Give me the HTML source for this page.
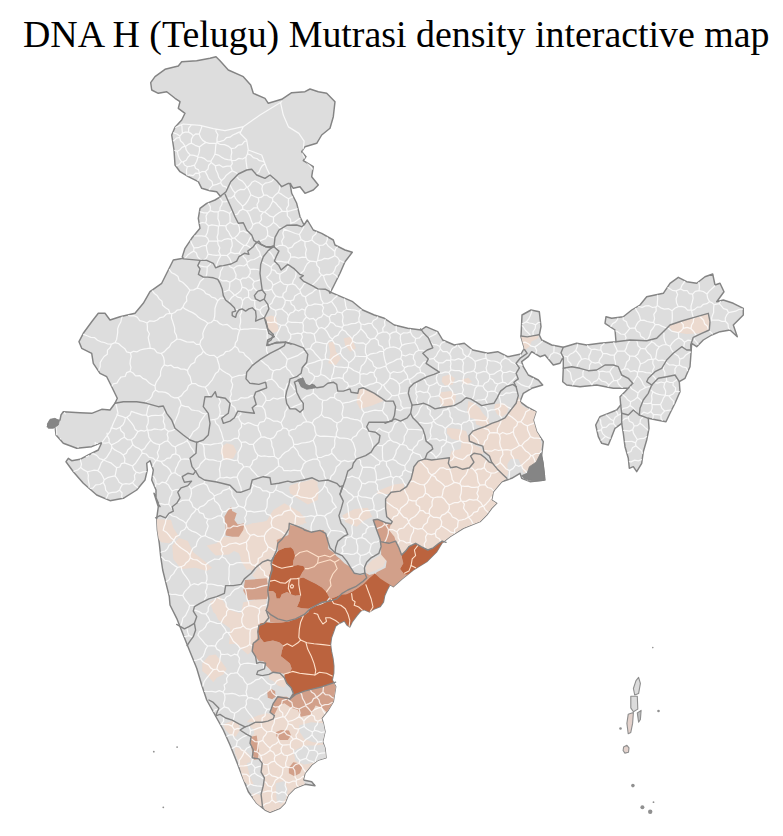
<!DOCTYPE html>
<html><head><meta charset="utf-8"><title>DNA H (Telugu) Mutrasi density interactive map</title>
<style>
html,body{margin:0;padding:0;background:#fff;width:783px;height:836px;overflow:hidden}
h1{font-family:"Liberation Serif",serif;font-weight:normal;font-size:37.9px;line-height:44px;margin:0;position:absolute;left:23px;top:11.5px;white-space:nowrap;color:#000}
svg{position:absolute;left:0;top:0}
</style></head><body>
<h1>DNA H (Telugu) Mutrasi density interactive map</h1>
<svg width="783" height="836" viewBox="0 0 783 836">
<path d="M150.7,82.7 L155.0,76.7 L165.0,69.3 L178.3,66.0 L181.7,61.7 L196.7,60.7 L210.0,58.3 L216.0,56.7 L220.0,60.7 L228.3,70.0 L243.3,76.7 L250.7,85.0 L253.3,93.3 L265.0,98.3 L268.3,103.3 L281.7,99.3 L291.7,92.7 L305.0,91.7 L310.0,89.0 L318.3,91.7 L326.7,93.3 L335.0,101.7 L333.3,116.7 L330.0,128.3 L321.7,135.0 L316.7,143.3 L305.0,146.7 L301.7,151.7 L306.0,156.7 L303.3,160.7 L313.3,166.7 L311.7,176.7 L318.3,185.0 L313.3,190.0 L305.0,193.3 L300.0,186.7 L293.3,188.3 L290.0,183.3 L291.7,193.3 L296.7,203.3 L300.0,216.7 L304.0,225.0 L307.3,220.0 L313.3,230.0 L321.7,233.3 L333.3,240.0 L335.0,245.0 L345.0,250.0 L352.3,252.3 L345.0,261.7 L340.0,273.3 L333.3,286.7 L330.0,293.3 L329.3,291.7 L341.0,296.7 L352.7,301.7 L362.7,310.0 L374.3,315.0 L384.3,318.3 L394.3,325.0 L407.7,328.3 L421.0,330.0 L426.0,326.7 L437.7,331.7 L442.7,340.0 L454.3,345.0 L464.3,343.3 L472.7,350.0 L487.7,353.3 L497.7,351.7 L507.7,356.7 L521.0,354.0 L524.3,348.3 L521.0,336.7 L522.0,315.0 L531.0,310.0 L539.3,311.7 L541.0,326.7 L539.3,335.0 L541.7,340.0 L551.7,345.0 L563.3,347.3 L576.7,343.3 L586.7,345.0 L600.0,343.3 L616.0,341.7 L615.0,330.0 L605.0,323.3 L606.0,316.7 L611.7,318.3 L623.3,316.7 L631.7,310.0 L640.0,305.0 L646.7,296.7 L663.3,293.3 L670.0,283.3 L678.3,277.3 L686.7,281.7 L696.7,283.3 L705.0,276.7 L712.7,274.0 L715.0,285.0 L720.0,283.3 L724.0,291.7 L716.7,301.7 L723.3,300.0 L733.3,303.3 L743.3,308.3 L743.3,315.0 L733.3,325.0 L737.3,336.7 L730.0,330.0 L720.0,331.7 L711.7,335.0 L703.3,340.0 L696.7,346.7 L691.7,343.3 L691.0,353.3 L690.0,366.7 L685.0,378.3 L679.3,381.7 L680.0,391.7 L675.0,403.3 L670.0,413.3 L666.0,421.7 L656.7,420.0 L648.3,418.3 L649.0,428.3 L646.7,440.0 L643.3,451.7 L641.7,463.3 L636.7,471.7 L633.3,466.7 L629.3,468.3 L628.3,458.3 L625.0,446.7 L623.3,433.3 L621.7,423.3 L615.0,428.3 L611.7,436.7 L608.3,445.0 L601.7,443.3 L598.3,436.7 L595.7,425.0 L600.0,416.7 L608.3,413.3 L616.7,410.0 L620.7,405.0 L620.0,396.7 L625.0,391.7 L632.7,383.3 L628.3,388.3 L613.3,388.3 L596.7,385.0 L580.0,386.7 L566.7,385.0 L562.7,381.7 L563.3,368.3 L563.3,356.7 L560.0,363.3 L553.3,365.0 L545.0,355.0 L540.0,356.7 L531.7,351.7 L528.3,356.7 L521.7,361.7 L523.3,366.7 L528.3,375.0 L538.3,380.0 L542.7,385.0 L531.7,388.3 L523.3,393.3 L520.0,401.7 L526.7,406.7 L536.0,411.7 L533.3,420.0 L536.7,431.7 L543.3,441.7 L541.7,455.0 L543.3,466.7 L545.0,480.0 L545.0,480.0 L530.0,481.7 L521.7,478.3 L520.0,473.3 L511.7,478.3 L501.7,481.7 L493.3,491.7 L491.7,500.0 L496.7,503.3 L491.7,508.3 L486.7,515.0 L480.0,521.7 L463.3,528.3 L450.0,536.7 L441.7,543.3 L436.7,551.7 L426.7,561.7 L413.3,570.0 L401.7,579.3 L393.3,586.7 L390.0,584.7 L387.3,589.7 L384.6,595.8 L383.4,602.0 L380.2,606.5 L373.9,609.2 L369.4,611.9 L364.1,609.7 L360.5,611.2 L356.9,615.5 L352.4,621.5 L349.8,626.9 L347.1,625.1 L344.4,620.8 L339.0,623.5 L335.5,626.2 L333.7,631.5 L331.5,637.4 L330.5,644.6 L331.5,651.7 L333.0,658.9 L333.8,666.1 L333.7,673.2 L332.2,680.0 L335.7,686.7 L333.3,701.7 L328.3,710.0 L321.7,718.3 L323.3,723.3 L325.0,731.7 L322.7,741.7 L325.0,748.3 L326.0,757.7 L318.3,760.0 L311.7,765.0 L305.0,773.3 L303.3,780.0 L311.7,781.7 L315.0,785.7 L305.0,784.3 L295.0,788.3 L288.3,795.0 L285.0,803.3 L280.0,808.3 L270.0,812.3 L265.0,810.0 L256.7,803.3 L248.3,791.7 L241.7,775.0 L236.7,761.7 L230.0,745.0 L223.3,730.0 L215.0,715.0 L206.7,700.0 L201.7,685.0 L196.7,668.3 L190.0,651.7 L183.3,635.0 L176.7,618.3 L170.0,605.0 L169.3,596.7 L166.0,583.3 L162.7,570.0 L160.7,556.7 L159.3,543.3 L157.3,530.0 L156.7,518.3 L158.3,506.7 L154.0,493.3 L160.0,506.7 L156.0,498.3 L156.0,490.0 L151.7,480.0 L153.3,470.0 L150.0,460.7 L146.7,463.3 L147.3,470.0 L145.0,480.0 L136.7,490.0 L123.3,498.3 L110.0,500.7 L96.7,495.0 L83.3,483.3 L73.3,471.7 L66.0,461.7 L68.3,458.3 L71.7,460.7 L80.0,459.3 L88.3,455.0 L98.3,450.0 L101.7,442.7 L91.7,446.7 L76.7,448.3 L63.3,443.3 L56.0,435.0 L55.0,426.0 L47.3,426.7 L50.0,420.7 L60.0,420.0 L61.0,415.0 L63.3,411.7 L80.0,412.7 L91.7,413.3 L101.7,409.3 L110.0,410.0 L115.0,403.3 L117.3,398.3 L111.7,386.7 L106.7,376.7 L100.0,373.3 L93.3,363.3 L91.7,353.3 L81.7,348.3 L79.0,341.7 L83.3,333.3 L91.7,321.7 L98.3,313.3 L105.0,313.3 L110.0,320.0 L120.0,316.7 L135.0,313.3 L143.3,303.3 L150.0,291.7 L161.7,283.3 L168.3,270.0 L173.3,260.0 L183.3,258.3 L182.3,256.7 L185.0,248.3 L191.7,238.3 L200.0,228.3 L198.3,218.3 L200.0,208.3 L206.7,203.3 L215.0,200.0 L220.7,196.7 L216.7,191.7 L210.0,190.7 L201.7,188.3 L198.3,181.7 L188.3,176.7 L180.0,171.7 L175.0,165.0 L174.0,150.0 L171.7,135.0 L175.0,127.3 L181.7,120.0 L185.0,113.3 L178.3,108.3 L180.0,101.7 L175.0,98.3 L166.7,91.7 L158.3,93.3 L151.7,90.0Z" fill="#dddddd" stroke="#848484" stroke-width="1.45" stroke-linejoin="round"/>
<clipPath id="c"><path d="M150.7,82.7 L155.0,76.7 L165.0,69.3 L178.3,66.0 L181.7,61.7 L196.7,60.7 L210.0,58.3 L216.0,56.7 L220.0,60.7 L228.3,70.0 L243.3,76.7 L250.7,85.0 L253.3,93.3 L265.0,98.3 L268.3,103.3 L281.7,99.3 L291.7,92.7 L305.0,91.7 L310.0,89.0 L318.3,91.7 L326.7,93.3 L335.0,101.7 L333.3,116.7 L330.0,128.3 L321.7,135.0 L316.7,143.3 L305.0,146.7 L301.7,151.7 L306.0,156.7 L303.3,160.7 L313.3,166.7 L311.7,176.7 L318.3,185.0 L313.3,190.0 L305.0,193.3 L300.0,186.7 L293.3,188.3 L290.0,183.3 L291.7,193.3 L296.7,203.3 L300.0,216.7 L304.0,225.0 L307.3,220.0 L313.3,230.0 L321.7,233.3 L333.3,240.0 L335.0,245.0 L345.0,250.0 L352.3,252.3 L345.0,261.7 L340.0,273.3 L333.3,286.7 L330.0,293.3 L329.3,291.7 L341.0,296.7 L352.7,301.7 L362.7,310.0 L374.3,315.0 L384.3,318.3 L394.3,325.0 L407.7,328.3 L421.0,330.0 L426.0,326.7 L437.7,331.7 L442.7,340.0 L454.3,345.0 L464.3,343.3 L472.7,350.0 L487.7,353.3 L497.7,351.7 L507.7,356.7 L521.0,354.0 L524.3,348.3 L521.0,336.7 L522.0,315.0 L531.0,310.0 L539.3,311.7 L541.0,326.7 L539.3,335.0 L541.7,340.0 L551.7,345.0 L563.3,347.3 L576.7,343.3 L586.7,345.0 L600.0,343.3 L616.0,341.7 L615.0,330.0 L605.0,323.3 L606.0,316.7 L611.7,318.3 L623.3,316.7 L631.7,310.0 L640.0,305.0 L646.7,296.7 L663.3,293.3 L670.0,283.3 L678.3,277.3 L686.7,281.7 L696.7,283.3 L705.0,276.7 L712.7,274.0 L715.0,285.0 L720.0,283.3 L724.0,291.7 L716.7,301.7 L723.3,300.0 L733.3,303.3 L743.3,308.3 L743.3,315.0 L733.3,325.0 L737.3,336.7 L730.0,330.0 L720.0,331.7 L711.7,335.0 L703.3,340.0 L696.7,346.7 L691.7,343.3 L691.0,353.3 L690.0,366.7 L685.0,378.3 L679.3,381.7 L680.0,391.7 L675.0,403.3 L670.0,413.3 L666.0,421.7 L656.7,420.0 L648.3,418.3 L649.0,428.3 L646.7,440.0 L643.3,451.7 L641.7,463.3 L636.7,471.7 L633.3,466.7 L629.3,468.3 L628.3,458.3 L625.0,446.7 L623.3,433.3 L621.7,423.3 L615.0,428.3 L611.7,436.7 L608.3,445.0 L601.7,443.3 L598.3,436.7 L595.7,425.0 L600.0,416.7 L608.3,413.3 L616.7,410.0 L620.7,405.0 L620.0,396.7 L625.0,391.7 L632.7,383.3 L628.3,388.3 L613.3,388.3 L596.7,385.0 L580.0,386.7 L566.7,385.0 L562.7,381.7 L563.3,368.3 L563.3,356.7 L560.0,363.3 L553.3,365.0 L545.0,355.0 L540.0,356.7 L531.7,351.7 L528.3,356.7 L521.7,361.7 L523.3,366.7 L528.3,375.0 L538.3,380.0 L542.7,385.0 L531.7,388.3 L523.3,393.3 L520.0,401.7 L526.7,406.7 L536.0,411.7 L533.3,420.0 L536.7,431.7 L543.3,441.7 L541.7,455.0 L543.3,466.7 L545.0,480.0 L545.0,480.0 L530.0,481.7 L521.7,478.3 L520.0,473.3 L511.7,478.3 L501.7,481.7 L493.3,491.7 L491.7,500.0 L496.7,503.3 L491.7,508.3 L486.7,515.0 L480.0,521.7 L463.3,528.3 L450.0,536.7 L441.7,543.3 L436.7,551.7 L426.7,561.7 L413.3,570.0 L401.7,579.3 L393.3,586.7 L390.0,584.7 L387.3,589.7 L384.6,595.8 L383.4,602.0 L380.2,606.5 L373.9,609.2 L369.4,611.9 L364.1,609.7 L360.5,611.2 L356.9,615.5 L352.4,621.5 L349.8,626.9 L347.1,625.1 L344.4,620.8 L339.0,623.5 L335.5,626.2 L333.7,631.5 L331.5,637.4 L330.5,644.6 L331.5,651.7 L333.0,658.9 L333.8,666.1 L333.7,673.2 L332.2,680.0 L335.7,686.7 L333.3,701.7 L328.3,710.0 L321.7,718.3 L323.3,723.3 L325.0,731.7 L322.7,741.7 L325.0,748.3 L326.0,757.7 L318.3,760.0 L311.7,765.0 L305.0,773.3 L303.3,780.0 L311.7,781.7 L315.0,785.7 L305.0,784.3 L295.0,788.3 L288.3,795.0 L285.0,803.3 L280.0,808.3 L270.0,812.3 L265.0,810.0 L256.7,803.3 L248.3,791.7 L241.7,775.0 L236.7,761.7 L230.0,745.0 L223.3,730.0 L215.0,715.0 L206.7,700.0 L201.7,685.0 L196.7,668.3 L190.0,651.7 L183.3,635.0 L176.7,618.3 L170.0,605.0 L169.3,596.7 L166.0,583.3 L162.7,570.0 L160.7,556.7 L159.3,543.3 L157.3,530.0 L156.7,518.3 L158.3,506.7 L154.0,493.3 L160.0,506.7 L156.0,498.3 L156.0,490.0 L151.7,480.0 L153.3,470.0 L150.0,460.7 L146.7,463.3 L147.3,470.0 L145.0,480.0 L136.7,490.0 L123.3,498.3 L110.0,500.7 L96.7,495.0 L83.3,483.3 L73.3,471.7 L66.0,461.7 L68.3,458.3 L71.7,460.7 L80.0,459.3 L88.3,455.0 L98.3,450.0 L101.7,442.7 L91.7,446.7 L76.7,448.3 L63.3,443.3 L56.0,435.0 L55.0,426.0 L47.3,426.7 L50.0,420.7 L60.0,420.0 L61.0,415.0 L63.3,411.7 L80.0,412.7 L91.7,413.3 L101.7,409.3 L110.0,410.0 L115.0,403.3 L117.3,398.3 L111.7,386.7 L106.7,376.7 L100.0,373.3 L93.3,363.3 L91.7,353.3 L81.7,348.3 L79.0,341.7 L83.3,333.3 L91.7,321.7 L98.3,313.3 L105.0,313.3 L110.0,320.0 L120.0,316.7 L135.0,313.3 L143.3,303.3 L150.0,291.7 L161.7,283.3 L168.3,270.0 L173.3,260.0 L183.3,258.3 L182.3,256.7 L185.0,248.3 L191.7,238.3 L200.0,228.3 L198.3,218.3 L200.0,208.3 L206.7,203.3 L215.0,200.0 L220.7,196.7 L216.7,191.7 L210.0,190.7 L201.7,188.3 L198.3,181.7 L188.3,176.7 L180.0,171.7 L175.0,165.0 L174.0,150.0 L171.7,135.0 L175.0,127.3 L181.7,120.0 L185.0,113.3 L178.3,108.3 L180.0,101.7 L175.0,98.3 L166.7,91.7 L158.3,93.3 L151.7,90.0Z"/></clipPath>
<g clip-path="url(#c)">
<g stroke="none" fill="#ecdacf"><path d="M425.0,458.9 L431.7,460.0 L440.6,458.9 L449.4,457.8 L448.3,463.3 L450.6,467.8 L456.1,466.7 L462.8,469.3 L469.4,467.8 L473.9,462.2 L470.6,456.0 L473.9,453.3 L480.6,454.4 L485.0,457.8 L489.4,462.2 L491.7,462.9 L497.2,468.9 L502.8,474.4 L506.8,478.2 L501.7,481.7 L493.3,491.7 L491.7,500.0 L496.7,503.3 L491.7,508.3 L486.7,515.0 L480.0,521.7 L463.3,528.3 L450.0,536.7 L441.7,543.3 L442.2,541.1 L438.9,543.3 L433.3,547.8 L427.8,550.0 L421.1,546.7 L415.6,543.3 L408.9,546.7 L405.6,551.1 L401.6,555.1 L398.9,547.8 L395.6,541.1 L388.9,543.3 L380.4,541.6 L380.0,538.9 L376.7,530.0 L373.3,520.0 L377.8,519.3 L385.6,522.7 L391.1,523.8 L392.2,521.6 L386.7,516.7 L385.6,507.8 L385.6,498.9 L391.1,492.2 L400.0,491.1 L406.7,486.7 L411.1,478.9 L413.3,470.0 L411.7,475.6 L413.9,466.7 L418.3,461.1Z"/><path d="M518.3,396.7 L516.1,403.3 L511.7,408.9 L508.3,413.3 L505.0,417.8 L498.3,421.1 L491.7,423.3 L485.0,426.7 L478.3,428.9 L472.8,431.1 L469.0,435.6 L469.4,441.1 L476.1,444.0 L482.8,446.2 L483.9,451.6 L489.4,456.0 L491.7,462.2 L497.2,468.9 L502.8,474.4 L506.1,476.7 L508.3,473.3 L507.2,464.4 L510.6,458.9 L518.3,458.9 L521.7,466.7 L523.9,473.3 L529.4,468.9 L536.1,462.2 L540.6,453.3 L541.7,444.4 L539.4,435.6 L537.2,427.8 L538.3,420.0 L536.1,411.6 L528.3,408.9 L521.7,405.6 L520.1,400.0Z"/><path d="M468.3,401.1 L473.9,403.3 L479.4,407.8 L482.8,413.3 L488.3,418.9 L489.4,424.4 L482.8,426.7 L476.1,424.4 L475.0,418.9 L469.4,417.8 L467.2,411.1Z"/><path d="M495.0,404.0 L502.8,403.3 L508.3,406.7 L507.2,413.3 L501.7,417.1 L497.2,414.4 L494.3,408.9Z"/><path d="M447.2,427.8 L458.3,428.9 L466.1,431.1 L468.3,437.8 L472.8,444.4 L480.6,447.8 L483.9,453.3 L480.6,454.4 L473.9,453.3 L470.6,456.0 L473.9,462.2 L469.4,467.8 L462.8,469.3 L456.1,466.7 L450.6,467.8 L448.3,463.3 L449.4,457.8 L451.7,451.1 L460.6,448.9 L461.7,441.1 L451.7,438.9 L446.8,433.3Z"/><path d="M442.3,376.7 L449.4,374.4 L455.0,378.2 L452.8,384.4 L445.0,385.6 L441.7,381.8Z"/><path d="M440.6,392.2 L450.6,391.1 L456.1,394.4 L455.0,403.3 L449.4,406.7 L441.7,405.6 L439.4,398.9Z"/><path d="M461.7,379.6 L468.3,377.8 L472.1,381.8 L467.2,384.4 L462.8,383.3Z"/><path d="M521.0,336.0 L527.2,336.9 L533.9,335.6 L538.8,334.7 L538.3,338.2 L531.7,341.3 L529.4,346.7 L523.9,350.7 L521.7,343.3Z"/><path d="M668.3,326.0 L681.7,321.3 L693.3,318.0 L708.3,313.7 L710.0,321.7 L709.3,330.0 L700.0,333.3 L686.7,334.0 L673.3,331.7Z"/><path d="M328.3,342.7 L333.7,341.7 L336.0,351.7 L341.0,358.3 L336.0,365.0 L328.3,363.3 L330.3,353.3Z"/><path d="M343.7,338.3 L351.0,336.7 L356.0,348.3 L350.3,351.7 L345.0,345.0Z"/><path d="M264.4,317.8 L271.1,315.6 L275.6,316.7 L278.9,331.1 L272.2,333.3 L267.8,328.9 L265.6,322.2Z"/><path d="M357.8,393.3 L358.9,388.9 L363.3,387.8 L367.8,390.0 L374.4,393.3 L381.1,397.8 L383.3,401.1 L372.2,405.6 L360.0,408.9 L356.7,402.2Z"/><path d="M221.7,446.7 L226.7,443.3 L233.3,445.0 L236.7,451.7 L233.3,458.3 L225.0,460.0 L220.7,453.3Z"/><path d="M290.0,485.6 L296.7,483.3 L306.7,481.1 L313.3,478.9 L317.8,482.2 L316.7,494.0 L293.3,494.0Z"/><path d="M377.8,491.1 L385.6,487.8 L394.4,484.4 L404.0,483.3 L404.0,494.0 L376.7,494.0Z"/><path d="M288.9,486.7 L303.3,482.2 L314.4,480.0 L318.9,488.9 L317.8,500.0 L307.8,504.4 L296.7,497.8 L290.0,493.3Z"/><path d="M271.1,513.3 L283.3,506.7 L296.7,511.1 L305.6,517.8 L303.3,524.4 L290.0,525.6 L288.9,531.1 L283.3,536.7 L277.8,540.0 L276.7,547.8 L271.1,557.8 L264.4,560.0 L258.9,566.7 L252.2,571.1 L243.3,564.4 L238.9,553.3 L230.0,548.9 L230.0,537.8 L238.9,535.6 L244.4,526.7 L252.2,523.3 L263.3,522.2 L270.0,518.9Z"/><path d="M252.2,575.6 L258.9,566.7 L264.4,561.1 L271.1,558.9 L270.0,571.1 L268.9,581.1 L258.9,581.1Z"/><path d="M243.3,602.2 L266.7,597.8 L265.6,607.8 L270.0,613.3 L267.8,624.4 L258.9,625.6 L257.8,634.0 L230.0,634.0 L230.0,615.6 L241.1,613.3Z"/><path d="M342.2,515.6 L354.4,508.9 L367.8,507.8 L372.2,516.7 L363.3,521.1 L356.7,526.7 L345.6,522.2Z"/><path d="M365.6,566.7 L372.2,560.0 L381.1,554.4 L386.7,557.8 L383.3,566.7 L374.4,571.1 L366.7,573.3Z"/><path d="M155.6,518.9 L171.1,520.0 L173.3,527.8 L178.9,536.7 L168.9,543.3 L161.1,542.2 L156.7,536.7Z"/><path d="M172.2,545.6 L178.9,537.8 L187.8,541.1 L193.3,552.2 L204.4,561.1 L212.2,567.8 L206.7,571.1 L195.6,567.8 L181.1,568.9 L173.3,558.9Z"/><path d="M206.7,545.6 L216.7,543.3 L223.3,536.7 L237.8,537.8 L244.4,525.6 L255.6,523.3 L266.7,521.1 L273.3,510.0 L284.4,503.3 L300.0,512.2 L306.7,523.3 L288.9,523.3 L285.6,534.4 L277.8,544.4 L273.3,556.7 L262.2,561.1 L255.6,567.8 L246.7,570.0 L240.0,558.9 L248.9,553.3 L242.2,545.6 L228.9,554.4 L215.6,555.6 L211.1,551.1Z"/><path d="M211.1,605.6 L220.0,601.1 L224.4,612.2 L237.8,616.7 L244.4,607.8 L260.0,603.3 L266.7,612.2 L264.4,623.3 L257.8,625.6 L255.6,643.3 L228.9,644.0 L231.1,625.6 L220.0,616.7 L213.3,612.2Z"/><path d="M290.0,698.9 L277.8,696.7 L273.3,703.3 L270.0,712.2 L274.4,715.6 L273.3,718.9 L267.8,721.1 L262.2,722.2 L255.6,722.2 L248.9,725.6 L245.1,726.9 L240.0,730.0 L246.7,734.4 L251.1,736.7 L250.0,743.3 L253.3,750.0 L252.2,757.8 L258.9,758.9 L262.2,763.3 L261.1,772.2 L264.4,777.8 L263.3,785.6 L261.1,794.4 L262.2,804.0 L265.0,810.0 L270.0,812.3 L280.0,808.3 L285.0,803.3 L288.3,795.0 L295.0,788.3 L305.0,784.3 L303.3,780.0 L305.0,773.3 L311.7,765.0 L318.3,760.0 L326.0,757.7 L325.0,748.3 L322.7,741.7 L325.0,731.7 L323.3,723.3 L321.7,718.3 L328.3,710.0 L333.3,701.7 L336.0,690.0 L335.6,682.2 L328.9,684.4 L322.2,686.7 L313.3,688.9 L304.4,691.1 L295.6,694.4Z"/><path d="M223.3,724.4 L232.2,720.7 L238.9,723.8 L240.0,730.0 L235.6,736.7 L230.0,734.4 L225.6,730.0Z"/><path d="M234.4,746.7 L244.4,750.0 L249.3,754.4 L251.1,763.3 L252.2,772.2 L255.6,783.3 L248.9,785.6 L243.3,781.1 L241.1,772.2 L238.2,761.1 L235.1,753.3Z"/><path d="M252.2,793.3 L261.1,794.9 L262.7,805.6 L256.7,807.8 L253.3,801.1Z"/><path d="M202.2,663.3 L208.9,655.6 L215.6,654.4 L221.1,661.1 L226.7,668.9 L223.3,674.4 L216.7,677.8 L213.3,682.2 L206.7,674.4 L202.2,671.1Z"/><path d="M231.1,630.0 L253.3,630.0 L258.9,636.7 L256.7,642.2 L253.3,643.3 L252.2,651.1 L247.8,654.4 L240.0,647.8 L233.3,641.1 L231.1,634.4Z"/><path d="M268.9,674.4 L280.0,673.3 L284.4,677.8 L286.7,683.3 L284.4,687.8 L277.8,685.6 L273.3,681.1 L268.9,678.9Z"/><path d="M246.7,722.2 L255.6,722.2 L262.2,722.2 L267.8,721.1 L273.3,718.9 L272.2,714.4 L266.7,713.3 L257.8,715.6 L250.0,718.9Z"/><path d="M210.0,601.7 L220.0,596.7 L230.0,610.0 L240.0,613.3 L241.7,623.3 L230.0,628.3 L218.3,620.0Z"/><path d="M230.0,623.3 L250.0,626.7 L256.7,640.0 L246.7,646.7 L236.7,640.0Z"/></g>
<g stroke="none" fill="#dddddd"><path d="M298.9,725.6 L311.1,722.2 L324.4,723.3 L325.6,734.4 L322.2,743.3 L313.3,742.2 L304.4,738.9 L300.0,732.2Z"/><path d="M293.3,751.1 L304.4,745.6 L313.3,745.6 L325.6,744.4 L326.7,758.9 L317.8,761.1 L311.1,763.3 L304.4,764.4 L295.6,761.1Z"/><path d="M275.6,783.3 L284.4,781.1 L287.8,790.0 L285.6,798.9 L281.1,804.0 L276.7,801.1Z"/><path d="M240.0,728.9 L246.7,734.4 L251.1,736.7 L254.4,733.3 L253.3,728.9 L248.9,725.6Z"/><path d="M246.7,763.3 L253.3,761.1 L258.9,763.3 L261.1,772.2 L260.0,783.3 L254.4,785.6 L250.0,776.7Z"/></g>
<g stroke="none" fill="#d2a08a"><path d="M276.7,540.0 L288.3,535.0 L290.0,525.0 L300.0,526.7 L311.7,531.7 L323.3,530.0 L328.3,538.3 L328.3,548.9 L333.7,552.5 L336.4,556.1 L339.9,558.8 L344.4,563.2 L349.8,566.8 L352.4,571.3 L355.1,574.0 L362.3,574.9 L365.9,573.1 L369.4,574.9 L374.8,573.6 L369.4,578.1 L364.1,583.4 L357.8,587.9 L352.4,591.5 L346.2,594.2 L340.8,594.4 L335.5,596.9 L330.1,599.0 L329.2,597.2 L326.5,591.9 L322.0,587.4 L315.8,583.8 L308.6,580.2 L303.3,577.5 L298.8,578.4 L300.6,575.8 L302.4,572.2 L305.1,568.6 L303.3,565.9 L297.9,565.0 L292.9,565.9 L293.4,560.6 L295.2,556.1 L293.4,549.8 L290.8,547.2 L284.5,548.0 L278.2,550.7 L277.3,545.4Z"/><path d="M245.0,580.0 L266.7,578.3 L268.3,586.7 L270.0,591.7 L268.3,595.0 L266.7,599.0 L248.3,600.0 L243.3,590.7Z"/><path d="M268.4,591.0 L272.9,591.0 L275.6,593.6 L276.5,598.6 L280.0,598.6 L281.8,594.2 L287.2,591.9 L290.8,594.2 L295.2,595.8 L300.6,595.1 L299.7,600.8 L297.0,607.0 L301.8,608.3 L308.6,608.8 L308.6,611.9 L303.3,616.0 L296.1,618.7 L289.0,621.4 L281.8,622.6 L274.7,623.1 L270.2,621.9 L269.3,615.1 L266.6,608.8 L268.4,600.8Z"/><path d="M260.4,638.0 L263.9,642.3 L272.9,640.5 L279.1,642.3 L283.6,645.8 L281.8,650.9 L280.9,656.2 L285.4,659.8 L289.9,663.4 L291.7,668.7 L289.0,673.2 L284.5,674.1 L278.2,672.3 L272.9,673.2 L269.3,668.7 L265.7,665.2 L263.9,661.6 L258.6,660.7 L253.3,653.3 L251.7,645.0 L256.7,640.0 L258.3,631.7Z"/><path d="M231.1,506.7 L232.2,511.1 L236.7,513.3 L234.4,520.0 L237.8,524.4 L244.4,523.3 L243.3,530.0 L238.9,536.7 L232.2,536.7 L225.6,535.6 L225.6,525.6 L224.4,516.7 L227.8,511.1Z"/><path d="M373.3,520.0 L377.8,519.3 L385.6,522.7 L391.1,523.8 L388.9,530.0 L394.4,536.7 L395.6,541.1 L398.9,547.8 L401.6,555.1 L402.2,558.9 L403.3,563.3 L400.0,568.9 L403.3,573.3 L408.9,571.1 L411.1,574.9 L406.7,580.4 L397.8,584.9 L391.1,587.8 L388.9,585.6 L383.3,583.3 L376.7,580.0 L373.3,576.7 L376.7,572.2 L385.6,567.8 L386.7,561.1 L381.1,554.4 L381.1,546.7 L380.0,538.9 L376.7,530.0Z"/><path d="M277.8,696.7 L286.7,696.7 L290.0,698.9 L295.6,694.4 L304.4,691.1 L313.3,688.9 L322.2,686.7 L328.9,684.4 L335.6,682.2 L336.7,690.0 L334.4,698.9 L331.1,707.8 L326.7,712.2 L322.2,707.8 L315.6,705.6 L311.1,714.4 L301.1,716.7 L297.8,710.0 L291.1,707.8 L284.4,703.3 L278.9,705.6 L274.4,714.4 L270.0,712.2 L273.3,703.3Z"/><path d="M267.1,691.1 L271.1,688.9 L275.1,691.1 L275.6,696.7 L272.2,699.3 L267.8,697.8Z"/><path d="M275.6,732.2 L281.1,730.0 L288.9,730.4 L291.1,735.6 L287.8,740.0 L280.0,740.0 L276.7,736.7Z"/><path d="M288.9,767.8 L293.3,762.2 L298.9,763.3 L302.2,767.8 L300.0,773.3 L294.4,776.2 L288.9,773.3Z"/><path d="M251.1,736.7 L256.7,735.6 L257.8,743.3 L258.9,751.1 L257.8,758.9 L254.4,760.0 L252.2,752.2 L250.7,743.3Z"/></g>
<g stroke="none" fill="#bb633e"><path d="M272.0,563.2 L273.8,557.0 L278.2,550.7 L284.5,548.0 L290.8,547.2 L293.4,549.8 L295.2,556.1 L293.4,560.6 L292.9,565.9 L297.9,565.0 L303.3,565.9 L305.1,568.6 L302.4,572.2 L300.6,575.8 L298.8,578.4 L303.3,577.5 L308.6,580.2 L315.8,583.8 L322.0,587.4 L326.5,591.9 L329.2,597.2 L326.5,601.1 L321.2,603.5 L314.9,605.8 L308.6,608.8 L301.8,608.3 L297.0,607.0 L299.7,600.8 L300.6,595.1 L295.2,595.8 L290.8,594.2 L287.2,591.9 L281.8,594.2 L280.0,598.6 L276.5,598.6 L275.6,593.6 L272.9,591.0 L268.4,591.0 L269.3,585.6 L270.2,581.1 L269.3,575.8 L271.1,569.5Z"/><path d="M308.6,609.7 L314.9,606.5 L321.2,604.4 L326.5,601.9 L330.1,599.0 L335.5,596.9 L340.8,594.4 L346.2,594.2 L352.4,591.5 L357.8,587.9 L364.1,583.4 L369.4,578.1 L374.8,573.6 L380.2,578.4 L385.5,582.0 L390.0,584.7 L387.3,589.7 L384.6,595.8 L383.4,602.0 L380.2,606.5 L373.9,609.2 L369.4,611.9 L364.1,609.7 L360.5,611.2 L356.9,615.5 L352.4,621.5 L349.8,626.9 L347.1,625.1 L344.4,620.8 L339.0,623.5 L335.5,626.2 L333.7,631.5 L331.5,637.4 L330.5,644.6 L331.5,651.7 L333.0,658.9 L333.9,666.1 L333.7,673.2 L332.2,680.0 L335.6,682.2 L328.9,684.4 L322.2,686.7 L313.3,688.9 L304.4,691.1 L295.6,694.4 L290.0,698.9 L293.3,693.3 L291.1,687.8 L286.7,683.3 L284.4,677.8 L284.5,674.1 L289.0,673.2 L291.7,668.7 L289.9,663.4 L285.4,659.8 L280.9,656.2 L281.8,650.9 L283.6,645.8 L279.1,642.3 L272.9,640.5 L263.9,642.3 L260.4,638.0 L257.7,631.2 L258.6,624.0 L265.7,622.2 L274.7,623.1 L281.8,622.6 L289.0,621.4 L296.1,618.7 L303.3,616.0 L308.6,611.9Z"/><path d="M401.6,555.1 L405.6,551.1 L408.9,546.7 L415.6,543.3 L421.1,546.7 L427.8,550.0 L433.3,547.8 L438.9,543.3 L442.7,540.7 L446.7,543.3 L437.8,553.3 L431.1,561.1 L422.2,567.8 L415.6,571.1 L410.0,574.9 L404.0,574.0 L400.0,568.9 L403.3,563.3 L402.2,558.9Z"/></g>
<path d="M83.4,334.4 84.3,334.6 87.6,336 90.9,337.4 94.7,337.7 97.5,340.3 100.9,341.8 104.4,342.5 107.7,344 111.5,344.1M98.7,370.2 98.9,370.1 100.2,366.7 100.2,362.6 102,359.5 104.1,356.5 107.3,354.2 107.5,350.1 110.2,347.5 111.5,344.1M267.8,354 266.5,350.7 266.6,347.2 267.1,346.1M267.3,339.7 267.1,336.7 267.2,333.2 266.7,329.7M266.7,329.7 267.1,329.4M112.1,386.1 113.1,383.9 116.9,383.1 118.8,379.8 121,377 125.1,376.5 126.6,372.7 130,371.3M115,342.7 118.8,343.7 121.5,346.3 124.6,348.4 126.7,351.8 130.5,352.9M111.5,344.1 115,342.7M130,371.3 131,367.6 130,363.9 130.3,360.2 131.2,356.6 130.5,352.9M115,342.7 116.6,339.4 117.2,335.8 117.7,332.3 117.7,328.6 118.9,325.2 120.8,322 121.5,318.5 122.2,316.8M128.6,315.4 129.4,315.8 133.7,315.7 137.2,317.1 139.7,320.6 143.5,321.5 147,323M130.5,352.9 133.6,351.3 137.1,351.8 140.2,350 143.5,349.1 146.8,348.7 150.2,348.2M147,323 147.4,326.6 147.4,330.2 149.4,333.7 148.2,337.5 148.9,341.1 149.8,344.6 150.2,348.2M189.9,290.2 188.1,293.5 186.4,296.8 186.8,301 184.3,303.9 182.8,307.3M189.9,290.2 187.7,287.3 185.2,284.7 182.6,282.3 179.2,280.6 178,276.6 175.2,274.4 171.7,272.8 169.5,269.9 169.3,269.4M152.3,290.8 154.4,293.5 157.3,295.8 159.2,298.9 162,301.3 162.6,305.3 165.5,307.7 168.7,309.8 169.9,313.4M182.8,307.3 180.5,309.7 177,310.2 174.7,312.5 171.8,313.8M169.9,313.4 171.8,313.8M203.9,277.7 203.1,279.1 200.2,281.5 198.7,284.9 197.1,288.1M197.1,288.1 193.7,289.9 189.9,290.2M147,323 149.9,320.8 154,321.3 157.3,320 160.2,317.6 163.7,316.8 166.4,314 169.9,313.4M173.8,423.7 174.7,422.1 176.1,418.8 177.5,415.4 178.9,412.1 179.3,408.3 181.2,405.2M189.3,438.7 189.5,437.9 191.5,434.9 193.2,431.7 196.5,429.5 199,426.8 199.7,423 201.5,419.9 203.6,416.9 205.7,414M205.7,414 202.1,413.1 198.9,411 195.1,410.5 191.4,409.8 188.5,406.9 184.8,406.3 181.2,405.2M205.7,414 207.5,413.2M171.8,313.8 171.4,317.7 172.6,321.1 173.7,324.7 174.7,328.2 174.6,332 176.4,335.3 177,339M150.2,348.2 154.3,349.1 157.1,352.7 161.3,353.5M161.3,353.5 164.4,351.6 166.8,349 169.5,346.7 171.3,343.3 174.3,341.3 177,339M207.8,323.3 205.7,326.5 204,329.9 202.8,333.4 203.2,337.6 200.7,340.6 199.8,344.3M182.8,307.3 185.8,309.4 189.2,311.1 192.6,312.6 195.8,314.6 198.4,317.3 201.5,319.3 205,320.9 207.8,323.3M177,339 180.3,339.4 183.5,340.6 186.6,341.9 190,342.2 193.5,341.9 196.3,344.4 199.8,344.3M213.7,320.1 217.1,321 219.8,323.7 222.9,325 226.9,324.3 229.8,326.6 232.6,328.8 236.4,328.7 239.5,330.3M213.7,320.1 214.7,316.3 214.9,312.3 215,308.3 216.2,304.5 217.8,300.8M241.1,309.9 241.6,312.2 239.9,315.6 240.6,319.1 240.6,322.6 239.7,326.1 240.4,329.7M223.9,298.1 220.3,298.2 217.8,300.8M240.4,329.7 239.5,330.3M197.1,288.1 200.6,289 203.7,290.7 205.9,293.7 209.3,294.8 211.8,297.2 215.3,298.2 217.8,300.8M207.8,323.3 211.2,322.5 213.7,320.1M266.7,329.7 263,329.3 259.2,329.2 255.4,328.6 251.7,328.5 247.9,329.2 244.2,329.1 240.4,329.7M199.8,344.3 201.5,347.8 203.4,351.2M203.4,351.2 206.2,354 209.7,355.5 214,355.3 217,357.9M239.5,330.3 238.6,333.5 237.7,336.7 237.4,340.1 235.4,342.9 234.9,346.3M217,357.9 220,355.9 223.4,354.7 225.7,351.6 229.5,351 232.3,348.9 234.9,346.3M253.3,364 252.4,363.5 250.7,360.1 248.2,357.7 245.4,355.6 243.5,352.5 239.3,351.8 237.8,348.2 234.9,346.3M191.8,383.5 188.5,385.8 187,389.8 183.8,392.3 181.5,395.6 178,397.7M191.8,383.5 190.9,380.1 190.2,376.7 188.2,373.7 187.5,370.3M187.5,370.3 184.3,369.1 180.8,369.1 177.6,367.4 174.1,367.7 171.1,365.2 167.5,365.8 164.2,364.8M178,397.7 174.4,397.8 171.2,396.5 168.5,393.9 165.5,392.4 162.1,391.9 158.5,391.9 155.5,390M164.2,364.8 161.8,368 160.6,371.6 160.5,375.7 158.4,378.9 156.2,382.1 155,385.8M155.5,390 155,385.8M161.3,353.5 163.5,357 164.3,360.8 164.2,364.8M203.4,351.2 201.4,354.1 198.1,356 195.6,358.6 194.7,362.4 191.3,364.2 189.3,367.1 187.5,370.3M145.5,402.5 146.2,401 149.8,399.2 151.9,396.3 153,392.6 155.5,390M181.2,405.2 180.2,401.2 178,397.7M130,371.3 133.1,373 135.6,375.9 139.9,375.7 142.7,378.3 146,379.7 148.6,382.4 151.6,384.5 155,385.8M232,377.6 229.4,374.6 225.8,372.8 222.5,370.7 219.5,368.1M232,377.6 231.1,381 232.7,384.4 232.1,387.8 230.8,391.1 231.4,394.5 229.9,397.8 230.9,401.2M219.5,368.1 218.3,371.4 215.5,373.6 213.9,376.7 212.3,379.8 210.1,382.3 208,385.1 205.2,387.2M205.2,387.2 206.9,390 208.2,393.1 209.5,396.1 209.5,396.1M229.5,401.9 230.6,401.6M230.6,401.6 230.9,401.2M217,357.9 217.9,361.3 219,364.6 219.5,368.1M245.9,374.3 242.9,375.1 239.1,375.4 235.6,376.5 232,377.6M253.7,395.9 251.3,395.6 248.1,397.6 244.7,398.2 240.9,397.7 237.9,400 234.4,400.7 230.9,401.2M191.8,383.5 195.4,383.6 198.4,385.7 201.7,386.7 205.2,387.2M236.6,412.1 235.9,411.1 234.9,407.6 231.7,405.2 230.6,401.6M218.7,397.7 218.8,398 220.5,401.6 218.8,405.3 219.7,408.9 220.2,412.6 219.4,416.2M210,420 211.3,419.9 214.8,419.4M219.4,416.2 217.6,418.6 214.8,419.4M279.1,349.5 280.6,350.9 282.8,353.8 285.3,356.4 287.3,359.3M305.1,351.4 303.6,351.6 300.5,353.6 297.5,355.7 294.1,356.8 290.7,358.1 287.3,359.3M313.1,393 313.5,389.6 313.4,386.3 313.2,385.9M337.8,391.7 334.8,394 334.5,397.7M313.1,393 316.3,395.5 319.1,398.6 322.9,400.3M334.5,397.7 330.4,397.4 326.9,400.1 322.9,400.3M385.2,401.5 384.1,403.4 383.8,407.1 382.3,410.5M388.5,421.1 388.1,419.5 386.9,416 384.1,413.5 382.3,410.5M372.9,448 372.7,444.9 371.7,441.4 370.5,437.9 369.1,434.5 368.9,431.7M293.4,376.2 291.3,373.8 289.7,371 287.2,369 285.9,366M293.4,376.2 292.8,377.3M288.6,382.8 287,384.2 286.1,387.7 284.3,390.5M285.9,366 282.9,367.6 280.1,369.5 276.5,369.5 273.4,370.8M284.3,390.5 281.5,388.5 278.6,386.7 276.7,383.7 274.5,381.2 271.8,379.1M271.8,379.1 272.2,374.9 273.4,370.8M294.9,376.7 293.4,376.2M287.3,359.3 286.6,362.7 285.9,366M285.2,397.7 284.7,397.3M284.7,397.3 284.6,393.9 284.3,390.5M313.1,393 310,395.2 306.2,396.2 303.2,398.8 301.3,399.7M260.4,360.2 262.3,361.6 265.1,363.9 268,366 270.1,369.1 273.4,370.8M260.7,390.8 261.1,391.6 263.5,394.2 265.5,397 266.1,400.4M284.7,397.3 281,397.8 277.4,399.2 273.4,398 269.9,400.5 266.1,400.4M265.4,381.6 268.1,380 271.8,379.1M249.3,381.6 251,382.8M262.3,406.6 258.4,405.9 254.8,406.4M262.3,406.6 264.7,409.9 265.5,413.8 266.1,417.7M266.1,417.7 264.2,421.3 259.8,422.3 257.9,425.9M257.9,425.9 254.6,425.1 251.4,423.7 248.2,422.7 244.4,424.3 241.3,422.6M240.7,412.1 241,414 238.5,416.6M238.5,416.6 239.4,419.8 241.3,422.6M266.1,400.4 264.1,403.5 262.3,406.6M287.5,405.8 287,409 284.9,412.2 284.6,416.1 282.8,419.5 281,422.8M281,422.8 277.4,421.1 273.3,421.1 269.9,418.9 266.1,417.7M219.4,416.2 223.2,415.4 224,415.8M235.3,417.4 238.5,416.6M223.7,440.5 227.4,441 231,440.6 234.4,438.4 238.1,438.4M238.1,438.4 239.3,434.6 238.6,430.3 241.6,426.8 241.3,422.6M214.8,419.4 215.8,423.1 218.8,426 220.1,429.6 221.6,433.1 222.5,436.8 223.7,440.5M199.3,442 199.6,442.8 202.9,444.2M223.7,440.5 221.6,442.9M202.9,444.2 206.7,444.4 210.5,444.9 214.1,443.8 217.9,443.5 221.6,442.9M342.2,403.3 343.3,406.8 342.7,410.5 341.9,414.1 343.1,417.7M342.2,403.3 345.7,402.6 349.3,402.1 352.8,400.9 356.3,399.8 359.9,399.4M343.1,417.7 347,417.3 350.4,418.6 354,419.3 357.6,419.8 360.9,421.6M359.9,399.4 362.1,402.4 361.5,406.2 362,409.7 364.3,412.6M364.3,412.6 362.7,415.4 361.3,418.3 360.9,421.6M364.2,388.9 364,389.3 363.7,393.1 361.1,396 359.9,399.4M334.5,397.7 336.9,399.8 340.1,400.8 342.2,403.3M382.3,410.5 378.6,410.7 375,410.2 371.4,410.8 367.9,411.9 364.3,412.6M367.8,430.2 365.8,429.2 362.7,427.7M362.7,427.7 362.4,424.5 360.9,421.6M300.7,470.6 297.4,470.7 294,470.1 290.6,470.9 287.3,470.5 283.9,470.6M300.7,470.6 301.8,474.1 303.8,477.2 304.7,479M306.1,461.8 303.4,464.2 302.4,467.6 300.7,470.6M317.1,458.8 313.2,459.1 309.6,460.3 306.1,461.8M326.2,479.6 326,479.1 324.3,475.8 324,471.9 322.2,468.6 320.2,465.5 319.7,461.7 317.1,458.8M283.9,470.6 282.1,467.5 278.9,466M278.9,466 276,468.2 273.4,470.6 270.1,472.1 267.4,474.4 264.3,476.3M329.8,480.1 330,479.9 331,476.3 333.8,473.8 335.5,470.6 336.3,466.9 339.3,464.6 341.3,461.6M317.1,458.8 317.9,457.5M317.9,457.5 321.7,457.3 325,455.7 328.6,455.1 331.8,453.2M331.8,453.2 334.8,456.3 337.3,459.7 341.3,461.6M341.3,461.6 344.6,460.3 348,461.7 351.4,460.9 354.6,460.7M362.7,427.7 360.2,429.9 357.9,432.4 356.3,435.6 353.1,437.2 351.2,440M356.3,458.5 356,458 354.8,454.5 355.6,450.3 354.5,446.7 353.4,443.2 351.2,440M316.3,434.7 320,436.4 323.9,436.2 327.7,436.3 331.5,436.6 335.4,437M316.3,434.7 315,430.8 314.6,426.6 312.2,423.1M321.4,414.4 324,417.1 327.8,417.7 331.2,418.9 333.9,421.3 337.1,423M321.4,414.4 319.3,416.7 316.3,418.2 313.8,420.1 312.2,423.1M337.1,423 336.6,426.3 337.7,429.8 336.3,433.1 336.2,436.4M336.2,436.4 335.4,437M317.9,457.5 316.1,454.3 316.1,450.6 315.8,447 314.5,443.6 313.2,440.3M313.2,440.3 314.7,437.5 316.3,434.7M331.8,453.2 331.7,449.8 334.3,447 334.9,443.7 334.6,440.3 335.4,437M343.1,417.7 340.9,421.2 337.1,423M322.9,400.3 322.1,403.8 322.4,407.4 322.1,410.9 321.4,414.4M302.1,411 302.5,411.6 303.1,415.4 305.1,418.5 306.9,421.7M306.9,421.7 309.6,422.2 312.2,423.1M351.2,440 347.6,438.5 343.7,438.2 339.7,438.1 336.2,436.4M202.9,444.2 204.1,447.8 204.1,451.5 204.5,455.2 205.6,458.7M205.6,458.7 203,461.3 200.5,463.8 198.9,467.2 195.8,469.3 195.3,470.1M306.1,461.8 303.3,459.8 301.1,457.3 298.8,454.9 297.7,451.4 295.6,448.8 293.3,446.4M278.9,466 278.4,462.7 278.1,459.3M278.1,459.3 280.7,457.2 282.7,454.4 285.2,452.3 288.4,450.8 290.6,448.3 293.3,446.4M281,422.8 282.1,425.3 283.1,427.9M306.9,421.7 303.4,422.4 300.9,424.9 297.5,425.9 295.3,429 291.8,429.6 288.8,431.2M283.1,427.9 286.5,428.5 288.8,431.2M313.2,440.3 309.5,441.9 305.6,442.7 301.6,443 297.9,444.4 293.8,444.3M288.8,431.2 289,434.8 291.8,437.6 293,440.8 293.8,444.3M293.8,444.3 293.3,446.4M222.9,459.6 220.8,461.5M222.9,459.6 226.6,458.6 230.3,459.4 234,460.6 237.7,460M220.8,461.5 220.5,465.5 219.4,469.4 220,473.5 220.1,477.5M220.1,477.5 223.5,477.8 226.8,477.2 230.3,478.1 233.6,477.1 237,477.2M237,477.2 238.5,473.3 240.9,470 243.7,467M243.7,467 242.3,464.2 238.9,463 237.7,460M221.6,442.9 222.6,446.2 221.8,449.6 221.9,452.9 222.7,456.2 222.9,459.6M205.6,458.7 209.3,459.8 213.2,459.9 217,461 220.8,461.5M241.2,442.3 241.6,446 240,449.4 238,452.7 238.2,456.4 237.7,460M238.1,438.4 241.2,442.3M216.3,481.3 217.1,479.6 220.1,477.5M241.5,491.4 241.4,491.3 240.9,487.6 239.5,484.2 238.4,480.6 237,477.2M259.5,477.2 257.4,476.2 254.9,473.1 252.1,470.3 249.7,467.1M249.7,467.1 246.7,466.5 243.7,467M257.9,455.1 261.1,456.4 264.5,455.9 267.8,456.5 271.2,456.5 274.6,456.4M257.9,455.1 255.5,451.9 254.2,448.2 253.3,444.4M274.6,456.4 273.9,452.8 273.5,449.2 271.9,446 271.7,442.3 270.4,438.9M253.3,444.4 255.6,441.7 258.2,439.2 261.2,437.1M261.2,437.1 264.4,436.9 267.3,438.1 270.4,438.9M249.7,467.1 251.9,464.2 253,460.6 256.7,458.7 257.9,455.1M278.1,459.3 274.6,456.4M241.2,442.3 245.4,441.8 249.1,444.3 253.3,444.4M283.1,427.9 280.8,430.4 277.3,431.5 275.8,434.9 273.7,437.6 270.4,438.9M257.9,425.9 258.5,429.7 260.4,433.3 261.2,437.1M229.8,564.5 233.3,564.5 236.5,562.9 239.9,562.5 243.3,562.9 246.7,562.8 250.1,562.6M229.8,564.5 227.4,561.7 225.3,558.5 221.8,556.8M221.8,556.8 223.1,553.4 221.2,549.9 222.3,546.5M222.3,546.5 225.8,546.3 229,544.2 232.4,543.5 235.8,542.9 239.6,544.3 243,543.2 246.3,542M250.1,562.6 249.5,559.2 249,555.7 248.5,552.3 246.6,549.1 246.9,545.5 246.3,542M204.9,600.2 204.5,599.4 206.6,595.8 205.4,591.8 206.9,588.1 207.2,584.3M224.8,587.1 221.4,585.7 217.8,585.6 214.3,584.7 210.8,584 207.2,584.3M189.6,605.4 193.5,605.3 195.4,605.4M180.6,626 181,625.2 182.1,621.8 182.8,618.1 185.6,615.5 187.1,612.2 188.8,609 189.6,605.4M254.9,565.4 252,564.9 250.1,562.6M254.9,565.4 255.8,566.8M229.8,564.5 229,568.2 229.1,571.9 229,575.7 228.6,579.4 229.9,583.2 229.2,585M189.6,605.4 187.2,602.2 184.7,599 182.8,595.4M169.2,593.9 171.8,594.5 175.5,594.4 179.1,595.4 182.8,595.4M207.2,584.3 205.8,583M182.8,595.4 184.6,591.6 187.6,588.6 190.3,585.5M205.8,583 201.8,582.6 198.2,584.9 194,583.7 190.3,585.5M221.8,556.8 219.1,559.5 214.8,559 211.6,560.7 208.4,562.5 205.6,565M205.8,583 207,579.4 206.9,575.8 205.7,572.2 206.4,568.6 205.6,565M186.5,526.2 184.6,529.5 180.9,531.2 179.6,535 175.9,536.6 174,540M186.5,526.2 186.1,523.5M186.1,523.5 183.1,520.9 179.6,519.2 176.4,517 172.4,516 169.4,513.7M168.7,514.6 167.3,516.7 165.9,519.9 165.3,523.5 164,526.8 163.2,530.3M163.2,530.3 166.4,532.2 168.8,534.9 171,537.9 174,540M201.5,536.6 198.6,534.3 195.6,532.3 192,531.1 188.8,529.3 186.5,526.2M201.5,536.6 205.3,535.7M205.3,535.7 205.8,532.4 207.2,529.2 208.2,526 206.6,522.4 208,519.2M197.9,509.3 199.6,512.6 203.4,513.8 204.7,517.6 208,519.2M197.9,509.3 196.2,509.1M196.2,509.1 194.3,512.1 191.5,514.4 190,517.6 187.8,520.4 186.1,523.5M191.1,489.2 191.5,493 190.7,496.6 189.2,500.1M191.1,489.2 189,486 188.3,485.9M189.2,500.1 185.7,500.1 182.3,500.3 179.2,502.2 177.9,502.5M196.2,509.1 192.9,506.8 191.6,503 189.2,500.1M277,484.2 276.7,486.3 275.6,489.7M292,498.1 288.6,496.6 285.4,494.7 282.5,492.4 278.9,491.3 275.6,489.7M292,498.1 294.1,496.1 296.8,495.1M296.8,495.1 297.9,491.6 299.2,488.2 298.7,484.4 300.4,481.2M275.6,489.7 273.2,492.3 269.8,492.6M290.7,509.8 287.3,510.6 284.1,511.7 281.8,514.9 278.1,515.2 275,516.6 272.2,518.7M292,498.1 292.4,502.1 290,505.8 290.7,509.8M272.2,518.7 270.5,515.4 266.6,514.1 265,510.6M269.8,492.6 269.5,496.3 267.3,499.6 267.2,503.5 266.9,507.3 265,510.6M160.9,552.5 161.1,552 165.1,551 167.6,548.6 169.1,545.2 172.1,543.2 174,540.2M161.3,556.9 162.3,557.7 164.9,560.4 168.9,561 171.6,563.4 174.5,565.6 177.6,567.4M174,540.2 176,543.5 178.7,545.9 181.5,548.2 184.6,550.2 187.6,552.3 190,555M177.6,567.4 181.2,566.7M181.2,566.7 184.3,565.3 186.2,562.7 188.8,560.8 190.3,557.7M190,555 190.3,557.7M174,540 174,540.2M166.2,581.7 169.3,579.6 170.8,576.1 173.6,573.6 175.4,570.3 177.6,567.4M201.5,536.6 198.7,539.1 197,542.3 196.2,546.1 192.8,548.2 191.2,551.5 190,555M190.3,585.5 189.5,582 187.7,579 185.6,576.2 183.4,573.4 181.8,570.3 181.2,566.7M205.6,565 202.4,563.9 199.6,561.8 196.8,559.8 193.2,559.5 190.3,557.7M205.3,535.7 208.8,537.7 212.6,539 216,541.2 220.1,541.8M222.3,546.5 220.1,541.8M254.9,565.4 257.9,562.9 258.3,558.5 261.9,556.5 263.2,552.8 266.8,550.6 268.1,546.9M275.9,550.4 274.1,550.5 271.2,548.3 268.1,546.9M346.6,534.4 345,533.7 341.8,531.6 338.2,531 334.6,530.6 331,530.5M331,530.5 328.9,533.6 327.2,536.8M246.3,542 248.7,539 250.3,535.4M250.3,535.4 253.9,534.4 257.3,536.3 260.9,536.1 264.4,535.8M268.1,546.9 266.2,543.4 264.6,539.9 264.4,535.8M324.3,485.8 322.5,489 320,491.4 317,493.4 315,496.5 312,498.4M324.3,485.8 327.1,488.3 328,491.8 330.5,494.4 332.2,497.5 332.2,501.5 334.4,504.3 336.4,507.3M312,498.4 313.6,501.6 314.5,505 315.3,508.4 316.3,511.8 317.1,515.2M336.4,507.3 333.2,509.3 330.9,512.4 327.3,513.8 324.5,516.2M324.5,516.2 320.9,515.3 317.1,515.2M296.8,495.1 300.4,496.8 304.2,497.5 308,498.2 312,498.4M325.5,480.9 325.4,482.3 324.3,485.8M331,530.5 328.7,527.2 327.3,523.6 326.6,519.6 324.5,516.2M221.1,515.7 223.5,518.3 223.8,522 226.5,524.5 226.9,528.1M221.1,515.7 222.6,511.8M222.6,511.8 226,511.3 228.8,508.8 232.2,508.1 235.8,507.9 238.7,505.9M226.9,528.1 230.4,528 233.5,525.8 237.2,526.5 240.5,525.1 244,524.7M244,524.7 245.9,521.6 244.7,517.8 246.3,514.7 246.7,511.3M238.7,505.9 241.4,506.8 244.1,507.9M244.1,507.9 246.7,511.3M220.1,541.8 221.8,538.4 223.8,535.1 225,531.4 226.9,528.1M208,519.2 211.5,519 214.7,517.7 217.7,516 221.1,515.7M197.9,509.3 200.1,506.8 203.5,505.7 206,503.6 208.1,500.9 211.2,499.5 214,497.7M214,497.7 214.8,501.1 217.6,503.2 219.6,505.9 220.6,509.1 222.6,511.8M250.3,535.4 247.3,532.4 245.8,528.4 244,524.7M272.2,518.7 271.1,523 272.2,527.2M264.4,535.8 266.1,532.2 268.9,529.5 272.2,527.2M265,510.6 261.4,511.1 257.7,511.6 254.1,512.2 250.4,511.1 246.7,511.3M269.8,492.6 266.6,490.9 262.8,490.8 260.2,487.8 256.8,486.8 253.5,485.5M253.5,485.5 251.8,488.6 251.4,492.2 249.1,495 247,497.8 245.9,501.1 245.7,504.8 244.1,507.9M203.9,483.4 206.9,485.1 208.3,488.2 209.6,491.4 212.4,493.4 214.3,496M203.9,483.4 204.8,480.7M214.3,496 217.3,494.5 220.6,493.5 223,490.7 226.3,489.7 229.3,488.2M229.3,488.2 230.1,486.2M191.1,489.2 194,487.1 197.1,485.5 200.5,484.4 203.9,483.4M214,497.7 214.3,496M238.7,505.9 236.9,503.1 235.6,500 233.4,497.4 232,494.4 231.8,490.7 229.3,488.2M253.5,485.5 251.8,484.1M311.1,531.6 311.3,531.1 311,527.1 311.7,523.4 313.6,520.1 314.9,516.6M294.5,524.6 295.1,522.9 295.3,519.2 295.9,515.6M314.9,516.6 311.1,515.6 307.3,516.5 303.5,516.9 299.7,517 295.9,515.6M272.2,527.2 275.3,528.5 278.4,529.9 281.5,531.4 284.2,533.7 285.2,533.8M317.1,515.2 314.9,516.6M290.7,509.8 293.5,512.5 295.9,515.6M275.5,263 272.8,264.6 271.1,267.1M268.5,251.3 269.8,252 272.1,254.8 273.8,258.1 274.8,258.7M271.1,267.1 268,265.2 264.8,263.6 262.2,261.9M272.9,285.1 271.6,281.8 268.6,279.8 266.5,277.2M272.9,285.1 276.7,283.2 280.5,281.2M280.5,281.2 279.7,277.8 279.9,274.2M279.9,274.2 276.8,273.2 274.8,270.3 271.5,269.6M266.5,277.2 269,275.2 270.8,272.8 271.5,269.6M271.1,267.1 271.5,269.6M289.1,266 287.8,266.7 286.1,270.4 283,272.3 279.9,274.2M288,284.8 292.4,283.8M280.5,281.2 283.7,284.1 288,284.8M295.8,271.1 296.1,274.2 295.3,277.5 293.4,280.5 292.4,283.8M295.7,389.9 294.3,389.4 292.1,386 289.7,383.4M305.1,386.2 304.7,384.8 302.4,381.7 301.9,378 299.3,375.5M286.4,398.1 289.2,397.2 292.3,395.4 295.3,393.3 296.2,392.5M275.7,336.6 278.4,339.1 279.5,341.6M275,336.6 275.7,336.6M290.9,408.3 291,408.2 294.2,406.4 297.6,405 301,403.7 301.7,402.1M330.3,322.2 327.9,326 324.4,328.9M330.3,322.2 333.4,323.2 335.8,325.9 339,326.6 342.2,327.4M324.4,328.9 326.7,331.2 328.3,334.1 329.8,337.1 332.4,339.2M332.4,339.2 334.7,336.6 338,335.1 339.7,332 342.1,329.6M342.2,327.4 342.1,329.6M318.8,328.4 321.7,327.5 324.4,328.9M318.8,328.4 316.7,331.5 314.1,334.1M314.1,334.1 315,338 315.8,341.9M327,343.9 323.2,343.4 319.6,342.5 315.8,341.9M332.3,340.1 332.4,339.2M332.3,340.1 329,341.1 327,343.9M424.5,334.7 422,335 419.5,337.9 415.7,338.5M415.7,338.5 412.4,335.7 410.4,331.9M410.4,329.3 410.4,331.9M343.6,325.3 342.4,321.3 343.1,317 342,313M343.6,325.3 347.7,324.9 351.5,323.7 355.5,323.4 359.1,321.5M342,313 344.1,310.7 346.9,309.3M346.9,309.3 351,309.7 355.1,310 359,311.5M359,311.5 359.9,314.8 358.8,318.2 359.1,321.5M344.5,298.9 344.5,298.9 345.3,302.4 345.7,305.9 346.9,309.3M359,311.5 361,309.4M400.6,334.8 396.4,331.7M396.4,331.7 396.1,327.9 396.2,326.1M410.4,331.9 407.2,333 403.6,332.8 400.6,334.8M400.6,410.6 403.3,408.4M403.3,408.4 407,407.9 410.7,407.8 411,408M317.1,289.2 315.2,289.8 312.2,292.6 308.7,294.4 305.5,296.8M305.6,282.9 304.1,283.7 302.2,287 299.8,289.9M305.5,296.8 302.3,295.6 300.7,292.8M300.7,292.8 299.8,289.9M292.4,283.8 295.5,285.1 297.5,287.7 299.8,289.9M288,284.8 286.7,287.8 286.1,291.2 283.2,293.6 282.7,297M282.7,297 285.3,300.2M290.4,300.9 285.3,300.2M290.4,300.9 293.6,299.8 294.8,296 297.6,294.2 300.7,292.8M266.8,322.2 267.4,322.2 271.1,322.5 274.7,321.9M275.7,336.6 277.4,332.8 279.4,329.1 281,325.3M281,325.3 277.7,323.7 274.7,321.9M288.4,342.3 288.5,341 290.7,338.2 290.8,334.5M281,325.3 285.4,324.9M290.8,334.5 288.5,331.6 287.6,327.9 285.4,324.9M303.5,347.2 303.6,346.6 302.6,343.5 300.9,340.4 302.5,337 301.4,333.8M290.8,334.5 294.3,333.8 297.8,333.1 301.4,333.8M315.8,341.9 312.2,344.5 310.4,348.6M305.1,349.4 306.7,349.1 310.4,348.6M314.1,334.1 310.7,332.9 306.9,332.9 303.5,331.7M303.5,331.7 301.4,333.8M271.7,289.1 268.3,290.4 264.4,290.1 263.6,290.8M271.7,289.1 273.4,292.7 275.7,295.8M275.7,295.8 273.4,299.1 271.9,302.9 268.7,305.5M272.9,285.1 271.7,289.1M282.7,297 279.1,297.2 275.7,295.8M281.7,308.8 278.6,309.4 275.6,310.4M275.6,310.4 271.7,308.5 268.7,305.6M285.3,300.2 284.9,303.4 283.7,306.3 281.7,308.8M274.7,321.9 274.4,318 276.1,314.3 275.6,310.4M337.4,311.8 336.1,308 333.8,304.7 331.5,301.4M337.4,311.8 335.1,314.3 331.4,314.5 329.3,317.2M329.3,317.2 326.3,315.6 323.4,313.7M323.4,313.7 322.4,310.9 323.6,307.6 321.8,304.8M331.5,301.4 327.7,303.3 323.4,303M323.4,303 321.8,304.8M337,295.6 336.5,296.6 333.8,298.8 331.5,301.4M342,313 337.4,311.8M343.6,325.3 342.2,327.4M330.3,322.2 329.3,317.2M318.8,328.4 316.6,324.9 315.8,320.7M315.8,320.7 318.1,318.1 321.6,316.8 323.4,313.7M319.3,289.6 319.9,292.3 320.5,296.1 321.2,299.7 323.4,303M308.1,305.3 306.1,301.2 305.5,296.8M308.1,305.3 311.5,305.2 314.9,303.8 318.4,304.3 321.8,304.8M389.6,334.4 392.7,332.4 396.4,331.7M389.6,334.4 386.7,332.1 383.1,331.9M383.1,331.9 382.7,328.4 385,325.3 384.5,321.8 385.2,319.6M302.6,322.5 299,322.5 295.3,322.4 291.7,322.3 288,321.7M302.6,322.5 304.2,319.5 306.5,317M306.5,317 304.8,313.9 305.2,310.4M305.2,310.4 302,309 298.5,311 295.4,309.5M295.4,309.5 293.4,312 290.2,313.1 288.5,315.9M288.5,315.9 287.6,318.8 288,321.7M303.5,331.7 303.1,328.7 303.4,325.6 302.6,322.5M285.4,324.9 288,321.7M315.8,320.7 313.2,318.3 309.3,319.1 306.5,317M308.1,305.3 306.1,307.5 305.2,310.4M290.4,300.9 291.3,304.2 294.2,306.3 295.4,309.5M281.7,308.8 284.1,311 286.8,313 288.5,315.9M305.2,366.4 308.2,368.4 309.1,372.2 312.3,373.9 314.7,376.4M305.2,366.4 308,364 311.3,363.2 314.7,362.2 317.8,360.9 321.1,359.9M321.1,359.9 322,360.1M322,360.1 322.1,363.7 321.7,367.3 320.8,370.9 320.8,374.5M314.7,376.4 318,376.4 320.8,374.5M304.2,366.3 305.2,366.4M310,385 311.3,382.7 313.8,379.9 314.7,376.4M310.4,348.6 313.4,351.1 315.8,354.3 318.5,357.1 321.1,359.9M327,343.9 326.3,347.6 326.4,351.3 325.2,355 325.6,358.8M325.6,358.8 322,360.1M330.3,382.2 330,380.1M330,380.1 327.2,377.7 324.4,375.6 320.8,374.5M400.6,410.6 397.1,409.6 395.8,409.6M415.7,338.5 414.9,342.5M400.6,334.8 400.2,338.4 400.9,341.9 401.8,345.4M414.9,342.5 411.6,343 408.3,343.5 405,344.2 401.8,345.4M426,376.6 424.1,373.6 420.7,372.3M412,384.3 410.1,383.2 409.6,379.5M420.7,372.3 417.4,373.3 415,375.8 412.4,377.8 409.6,379.5M389.6,334.4 390.2,337.6 389.1,341 389.5,344.2 390,347.5M401.8,345.4 399.4,349.1M390,347.5 393.3,346.9 396.4,347.7 399.4,349.1M390,347.5 386.6,348.3 384,350.5M399.4,349.1 401.6,351.6 401.7,354.8M400.7,358.6 401.7,354.8M386.4,364.7 385.3,361.5 384.4,358.2 383.8,354.9 383.5,351.5M386.4,364.7 389.8,362.8 393.4,361.5 396.8,359.4 400.7,358.6M384,350.5 383.5,351.5M331.5,379 332,375.7 333.4,372.7 333.7,369.4 334.5,366.2M331.5,379 335.3,378.2 339.1,377.7 343,378.6M343,378.6 343.6,374.4 346.9,371.2 348.1,367.2M334.5,366.2 337.9,367 341.3,367.1 344.7,367.6 348.1,367.2M330.4,360.1 332.6,363.1 334.5,366.2M325.6,358.8 330.4,360.1M330,380.1 331.5,379M345.8,389.6 346.1,388.9 348.6,386M348.6,386 347.6,382.9 344.6,381.3 343,378.6M377.5,394.7 377.7,391.2 380.8,388.6 382,385.1M387.2,400.5 387.2,400.4 389.8,398.2 392,395.6M382,385.1 383.5,384.9M392,395.6 389.9,392.9 387.2,390.6 385.1,388 383.5,384.9M403.3,408.4 400.9,405.4 400.9,401.6 399.3,398.3 398.2,394.9M392,395.6 395.1,395.7 398.2,394.9M407.7,393 405.6,392.9 402.3,393.4 399,394M399,394 398.2,394.9M418.8,350.2 415.6,352 413.7,355.2M418.8,350.2 422.6,350.3 424.6,351.2M413.7,355.2 413.3,358.5 415.1,361.5 415,364.7M426.3,361.5 423.6,362.4 421.7,365.1 419.7,367.9M419.7,367.9 417.1,366.6 415,364.7M414.9,342.5 417.2,346.2 418.8,350.2M401.7,354.8 405.7,356 409.8,354 413.7,355.2M404.6,367.6 407.9,366.1 411.6,366 415,364.7M404.6,367.6 402.2,365.1 402.7,361.3 400.7,358.6M420.7,372.3 419.7,367.9M383.1,331.9 380.5,332.9 377.9,333.8M377.7,316.7 376.8,318.8 373.4,320.5 371.7,323.5M377.9,333.8 376.7,329.9 373.7,327 371.7,323.5M384,350.5 382.4,346.9 378.7,344.9 378.1,340.6 374.9,338.2M377.9,333.8 374.9,338.2M359.1,321.5 361,324M361,324 364.6,324.7 368.1,323.3 371.7,323.5M383.5,351.5 379.9,351.4 376.8,353 373.3,353.3 370,354.2 367,356.2M366.7,356.7 367,356.2M386.4,364.7 385.8,366.2M385.8,366.2 382.8,367 379.9,368.1 376.7,368M366.7,356.7 366.8,357.1M366.8,357.1 369.5,359.6 372.4,361.9 373.6,365.9 376.7,368M390.2,373.6 389.8,378.1M390.2,373.6 393.3,371.7 397.1,372.5 400.6,372.2 403.8,370.3M389.8,378.1 393.4,379.2 396.6,381.1 399.1,384M399.1,384 402.1,382.3 404.7,380.1 407.8,378.8M407.8,378.8 407.4,375.5 405.7,372.8 403.8,370.3M385.8,366.2 387.6,370.1 390.2,373.6M404.6,367.6 403.8,370.3M399,394 399.6,390.7 399.8,387.4 399.1,384M383.5,384.9 385.9,383 388,380.6 389.8,378.1M409.6,379.5 407.8,378.8M348.8,362.7 346.7,360.3 344.1,358.3 342,355.9 340.3,353M348.8,362.7 351.4,360.9 353.7,358.8 355.3,356M355.3,356 354.7,351.9 351.8,348.8 350.4,345M350.4,345 347.2,345.7 344.4,347.5 341.3,348.5M341.3,348.5 340.3,353M348.3,367.1 348.1,367.2M348.3,367.1 348.8,362.7M330.4,360.1 333.3,357.1 336.7,354.9 340.3,353M348.3,367.1 351.2,368.5 353.7,370.5 356.7,371.6 359.5,373M366.8,357.1 366,360.6 364.1,363.6 361.3,366.2 360.6,369.7 359.5,373M366.7,356.7 362.9,356.5 359.1,356.3 355.3,356M332.3,340.1 334.5,343.7 339.1,344.8 341.3,348.5M370.6,339.4 367.5,337.3 365.9,333.9 363.4,331.3 360.9,328.7M370.6,339.4 368.6,342.4 366,344.8M366,344.8 362.9,342.8 359.3,343.2 355.8,342.8 352.6,341.4M360.9,328.7 358.9,331.5 356.6,333.9 353.7,335.9 352.3,339.1M352.3,339.1 352.6,341.4M374.9,338.2 370.6,339.4M361,324 360.9,328.7M367,356.2 365.4,352.5 365.4,348.7 366,344.8M350.4,345 352.6,341.4M342.1,329.6 345.4,331.2 347.5,334 350.1,336.4 352.3,339.1M376.4,382.1 376.6,378.7 374.5,375.9 373.9,372.7M376.4,382.1 373.3,383.7 369.8,384.4 366.7,385.9 363.3,386.8M373.9,372.7 370.3,372.1 367.1,374.3 363.5,373.7 360.1,374.3M360.1,374.3 360,378.6 359.5,382.8M363.3,386.8 361.6,384.6 359.5,382.8M382,385.1 379.5,383 376.4,382.1M376.7,368 375.3,370.3 373.9,372.7M363.5,387.2 363.3,386.8M359.5,373 360.1,374.3M348.6,386 352.5,386 356.1,384.8 359.5,382.8M80.5,459.7 80.6,460.9 81.5,464.1 80.7,467.4M80.7,467.4 78,469.8 74.3,471 74,471.6M87.3,471.8 88.4,475.1 88.1,478.5 88.6,481.9 89.3,485.2 89,487.5M87.3,471.8 90.7,471 94.2,470.1 97.8,470.7M97.8,470.7 100.8,473.1 102.7,476.3 104.2,479.8M90.2,488.5 92.9,488.2 95.7,484.8 99.8,484.5 103.3,482.5M103.3,482.5 104.2,479.8M80.7,467.4 83.8,469.9 87.3,471.8M93,453.6 96.7,455.4 99.5,458.7 103.6,459.9M103.6,460 103.6,459.9M86.3,456.7 87.1,456.7 88.6,455.5M91.5,454.1 93,453.6M103.6,460 101,463.2 99.7,467.1 97.8,470.7M56.6,434.8 56.7,434.1 56.5,430.7M56.5,430.4 55.8,426.9 56.6,423.4 57.9,420.7M78.1,447.5 78,446.9M60.2,438.9 60.5,438.7M95.4,443 95,444.7M93.2,453.2 93,453.6M95.4,443 95.2,442.4M64.6,412.4 65.2,413.9M122.4,497.9 121.6,497 122.1,493 119.6,490.1M108.4,493.4 112.1,492.4 116.1,492.2 119.6,490.1M108.4,493.4 107,496.7 106.1,498.4M172,508.3 170.9,507.1 168.7,504.2M159.4,503.9 160.9,503.7 164.8,504.6 168.7,504.2M103.3,482.5 105.1,486.1 105.7,490.2 108.4,493.4M168.7,504.2 169.3,500.9 169.9,497.5 171.7,494.4 172.2,491M172.2,491 175.8,489.5 179.1,489.4M104.2,479.8 107.5,477.7 111.3,476.7 115.1,475.9M119.6,490.1 120.8,487.1 122.5,484.4M122.5,484.4 119.1,482.3 117.4,478.8 115.1,475.9M103.6,459.9 106.7,457.4 108.7,454.2 110.7,451 111.9,447.2M111.9,447.2 114.4,449.6 117.4,451.3 120.5,452.8 123.2,455M123.2,455 124.9,458.8 124.5,462.9M103.6,460 107.1,461.5 110.8,462.8 113.7,465.3 116.7,467.7M124.5,462.9 121.4,463.6 119.8,467 116.7,467.7M116.7,467.7 115.9,471.8 115.1,475.9M161,461.4 163.4,464.6 167,466.8 169.8,469.7 171.5,473.5M161,461.4 164.4,460.6 166.9,458.4 170.4,457.9 172.4,454.6 175.7,453.8M175.7,453.8 179.2,455.8 181,459.5M181,459.5 178.6,462.3 177.4,465.8 175.6,468.9 175,472.6M175,472.6 171.5,473.5M189.8,459.9 188.2,459.1 184.6,458.8 181,459.5M181.6,476.9 180.7,476.2 177.7,474.7 175,472.6M172.2,491 170.1,488.2 168.4,484.9 165.4,482.8M165.4,482.8 167.6,479.8 169.1,476.4 171.5,473.5M152.9,476.1 154.1,477.2 155.7,480.1 156.1,483.5M146.3,471.6 143.2,471.9 139.7,473.2 136.2,472.2M132.6,482.6 134.9,479.5 134.4,475.4 136.2,472.2M132.6,482.6 134.8,485.3 137.6,487.5 137.8,487.8M155.2,486.5 156.1,483.5M122.5,484.4 125.9,483.7 129.4,484.1 132.6,482.6M132.5,466 128.5,464.4 124.5,462.9M132.5,466 133.7,469.5 136.2,472.2M165.4,482.8 162.2,482.1 159.3,484.3 156.1,483.5M120.1,427.2 116.2,429.1 111.7,427.9 110.9,428.2M120.1,427.2 121,430.8 124.1,433.5 124.4,437.3M124.4,437.3 121,439 118.2,441.5 114.9,443.3 111.5,444.9M107,433.2 107.5,436 109.1,439.1 109.1,442.5M109.1,442.5 111.5,444.9M95.4,443 97.6,443.7M102.3,442.8 105.7,443.1 109.1,442.5M111.9,447.2 111.5,444.9M168.3,431.3 167.1,434.4 168.1,437.7 167.7,440.8M168.3,431.3 172,430.7 175,429.1M187.7,439 187,440.7M187,440.7 184.2,442.5 181.1,443.8 178,445.1 175.3,447M167.7,440.8 170,443.1 172.1,445.7 175.3,447M162.6,414.8 164.7,411.8 165,411.1M162.6,414.8 164,418 163.3,421.7 164.8,424.9 164.8,428.4M164.8,428.4 168.3,431.3M194.6,453.7 193.3,450.4 190.9,447.4 189.3,443.9 187,440.7M175.7,453.8 175.9,450.4 175.3,447M120.1,427.2 123,424.7 124.6,421.5 125.4,417.9M125.4,417.9 122,416.3 118.3,415.4 116.9,414.2M132.5,466 135.6,463.2 137.8,459.8 140,456.5 142.2,453.1M152.7,466.6 153.6,464.2 155.9,460.7M142.2,453.1 146.2,454 148.9,457.2 152.8,458.1 155.9,460.7M167.7,440.8 164.8,441.5 162.2,443.2 159.6,444.7M161,461.4 156.6,460.4M159.6,444.7 159.1,448.7 157.3,452.4 158.5,456.7 156.6,460.4M156.6,460.4 155.9,460.7M125.4,417.9 126.9,417.3M126.9,417.3 130,414.9 131.4,411.3M149.4,404.7 147.9,408 147.2,411.5 146.5,415M131.4,411.3 135.1,412.6 138.8,413.8 142.5,415.2 146.5,415M162.6,414.8 159,415.5 155.2,415.3 151.5,415.7 147.9,416.8M147.9,416.8 146.5,415M141.4,450.4 144.6,448.6 146.4,445.6 148.5,442.8 150.8,440.2M141.4,450.4 138.7,448.3 135.3,446.9 132.7,444.5M131.4,439.8 132.7,444.5M131.4,439.8 134.3,437.6 136.1,434.6 137.9,431.6M137.9,431.6 140.9,430.4 144.3,431.2 147.3,429.7M150.8,440.2 148.9,437.1 148.4,433.6 147.7,430.1M147.7,430.1 147.3,429.7M142.2,453.1 141.4,450.4M159.6,444.7 156.3,443.9 153.3,442.6 150.8,440.2M123.2,455 126.4,453.1 127.9,449.7 130.7,447.4 132.7,444.5M124.4,437.3 127.5,439.7 131.4,439.8M126.9,417.3 129.1,420.2 131.5,422.8 133.6,425.8 135,429.2 137.9,431.6M147.9,416.8 148.3,420 148.1,423.3 146.6,426.4 147.3,429.7M164.8,428.4 161.5,429.9 158,429.5 154.5,428.9 151.2,430.2 147.7,430.1M210,621.2 207,623.5 205.4,627 202.9,629.7 199.5,631.6 197.9,635.1M210,621.2 208.3,617.3 205.8,613.8M205.8,613.8 202.1,613.6 198.9,611.6 195.6,610.4 194.2,610M224.4,599.8 226,602.9 226.3,606.5 228.7,609.2M217.1,597.2 220,598.9 224.4,599.8M220.9,623.5 222.2,620.5 223.8,617.6 226.4,615.3 226.6,611.7 228.7,609.2M215.8,597.6 215.1,599.9 213.1,602.6 210,604.6 208.3,607.5 208.1,611.3 205.8,613.8M220.9,623.5 217.1,623.3 213.6,622.2 210,621.2M224.4,599.8 226.6,596.7 230.1,595.2 232.2,592 234.8,589.4 238.5,588.1 241.2,585.6M240.9,585 241.2,585.6M277.4,696.2 274.8,695 272.2,692.6 270.6,689.3M284.1,678.7 284,678.8 280.2,679.4 276.8,680.8 274.6,684.1 271,685.1M270.6,689.3 271,685.1M207.7,646 204.8,643.7 202.7,640.8 200.2,638.1 197.9,635.1M207.7,646 205.7,649.1 204.6,652.8 203.2,656.2 200.4,658.8M200.4,658.8 197,660 194.3,660.7M220.9,623.5 222.9,626.2 225.1,628.9 226.4,632.1M207.7,646 211.6,645.7 215.4,646.1M215.4,646.1 216.9,642.7 219.2,640.1 222.4,638 223.5,634.4 226.4,632.1M241.8,611.2 243.3,614.7 241.8,618.5 241.8,622.2 243.2,625.8M243.2,625.8 240.4,627.7 236.9,628.1 233.7,629 231.5,632.2 228,632.5M228.7,609.2 232,609.6 235.2,610.6 238.4,611.5 241.8,611.2M228,632.5 226.4,632.1M270.6,708.7 270.6,708.8 267.1,709.4M270.6,689.3 267.5,691.8 264.3,694.1 260.7,695.9 258.2,699.1M267.1,709.4 264.2,707.4 262.8,704.1 260.7,701.4 258.2,699.1M267.1,709.4 265.4,712.3 265.1,715.7 262.2,718.1 262,721.6M259,608.7 255.8,607.2 252.4,606.1 248.9,605.7M259,608.7 261.7,606 265.3,605.2 267.5,603.8M268,585.1 267.2,585.1 263.5,585.8 259.9,586.8 256.2,588 252.5,588.6 248.8,588.4 245.1,588.9M245.1,588.9 246.1,592.2 246.5,595.6 247,599 248.6,602.2 248.9,605.7M241.8,611.2 244.7,607.5 248.9,605.7M250.5,629.4 253.3,627.8 256.4,626.9 258.2,626.3M259.2,624.8 258.8,622.4 258.5,619 258.3,615.6 259.7,612.1 259,608.7M243.2,625.8 246.4,628.6 250.5,629.4M259.1,565.6 259.4,565.8 261.1,569 264.1,571.2 264.8,575.3 268.1,577.1 269.1,578.7M241.2,585.6 245.1,588.9M200.4,658.8 202.6,661.5 205.5,663.4 208.6,664.9 210.6,667.9 213.5,669.7M213.5,669.7 211.1,672.6 208.7,675.6 206.3,678.5 204.1,681.6 203,685.5 202.7,686M261.8,677 264.6,680.1 267.3,683.1 271,685.1M261.8,677 262.1,676.2M263.4,668.6 263.8,666.6 263,663.4M250.5,629.4 249.9,633.2 250,637 249.9,640.7 249.7,644.5M252.3,645.9 249.7,644.5M228,632.5 230,635.3 231.7,638.2 233.3,641.3 236,643.5 238.4,645.9 240.2,648.7M249.7,644.5 246.8,646.5 243.5,647.6 240.2,648.7M245,707 246.5,704.1 246.1,700.6 248.1,697.9M245,707 241.2,708.5 238.1,711.3 234.6,713.3M234.6,713.3 230.9,711.6 228.4,708.1 224.4,706.8M246.9,695.6 248.1,697.9M246.9,695.6 243.1,695.3 239.3,696 235.7,694.2 232,693.4 228.1,693.9 224.4,693.8M224.4,693.8 225,697 224.7,700.3 223.6,703.5 224.4,706.8M255,721.8 253.3,718.8 251.3,715.9 248.9,713.1 246.7,710.2 245,707M258.2,699.1 254.8,699.2 251.6,697.6 248.1,697.9M233.2,720 234.2,716.9 234.6,713.3M218.1,711.6 218.8,711.4 221.5,708.9 224.4,706.8M247.3,684.6 250.5,683.6 253.3,681.9 255.9,679.8 259.2,679.1 261.8,677M247.3,684.6 247,688.3 246,691.9 246.9,695.6M222.9,692 219.3,690.6 215.6,692.1 212,691.4 208.4,691.5 204.8,691.3 204.4,691.3M222.9,692 224.4,693.8M221,654.2 224.3,654.5 227.7,654 230.9,656 234.4,654.2 237.6,655.2M221,654.2 220.1,658 219.7,661.8 217.7,665.2 216.9,669M216.9,669 219.2,671.5 223.2,671.1 225.8,673.2 228.3,675.4M228.3,675.4 230.9,673.3 234.1,673.1 237.3,672.7M237.3,672.7 238.7,668.8 240.4,665M240.4,665 238.9,661.9 239.5,658.2 237.6,655.2M215.4,646.1 216.9,649.1 220,650.9 221,654.2M240.2,648.7 238.3,651.7 237.6,655.2M213.5,669.7 216.9,669M222.9,692 224.9,689 224.1,685 227.1,682.4 226.5,678.5 228.3,675.4M247.3,684.6 244.7,681.7 243,678.1 239.8,675.7 237.3,672.7M256.4,663.8 255.5,664.4 251.6,663.7 247.8,663.2 244,663.5 240.4,665M486.4,460 486.4,460.7 484.8,464 484.2,467.6M498.6,471.1 498.1,471.2 494.8,473 491.2,473.2M484.2,467.6 486.9,471.3 491.2,473.2M419.9,510.3 419.6,506.7 416.2,504.4 416.1,500.9M419.9,510.3 417.6,513.6 414.8,516.5 411.1,518.5 408.5,521.6M399.4,512 401.5,514.5 403.7,517.1 407,518.4 408.5,521.6M399.4,512 400.7,508.2 404,505.8 407.1,503.3 408.6,499.7M408.6,499.7 412.3,500.8 416.1,500.9M491.2,473.2 490.3,476.4 488.2,478.9 485.6,481.3 485.2,484.7M493.4,490.6 491.2,488.4 487.6,487.5 485.2,484.7M386.2,501.8 387.8,502.9 390.7,505.1 393.7,507.2 397,508.8 399.2,512M383.9,522.6 384.5,524.5M399.2,512 397.3,515.4 393.6,516.9 391.6,520.2 391.6,520.2M388,523.8 385.9,525.1M384.5,524.5 385.9,525.1M404.3,489 405.6,492.5 407.7,495.8 408.6,499.7M399.4,512 399.2,512M376.9,528.8 378.2,528.1 381.6,526.9 384.5,524.5M484.2,467.6 481.2,469.1 477.8,469.1 474.8,470.8M485.2,484.7 480.1,485.2M474.8,470.8 477,474.1 477.5,478 478.1,481.9 480.1,485.2M474.8,470.8 472.3,468.1 470.1,467.9M451.4,468.3 449.6,469.4M440.1,468 443.4,467.7 446.4,469.3 449.6,469.4M419.9,461.2 419.9,461.2 422.6,463.6 424.9,466.4 427.6,468.8 428.7,472.6 431.6,474.9M440.1,468 437.5,470.6 435,473.4 431.6,474.9M468.3,468.7 467.4,471.2 466,474.6 463.3,477.4 461,480.3 459.8,483.8M459.8,483.8 457.1,482.9 454.3,482.4M449.6,469.4 450.8,472.7 451.7,476 452.2,479.5 454.3,482.4M441.2,525.7 439.3,528.3 436.3,530 435.3,533.3M441.2,525.7 441.8,521.7 440,518.2M430.5,515.3 428,518.3 427.2,522.4 423.9,524.9 422.2,528.4M430.5,515.3 433.3,517.3 436.8,517.3 440,518.2M435.3,533.3 431.4,534.6 427.4,533.7M427.4,533.7 425,530.9 422.2,528.4M454.7,533 454.7,533M440.6,541.5 439.6,539 436.1,537 435.3,533.3M454.7,533 450.8,532.2 447.7,529.7 444.4,527.7 441.2,525.7M422.2,528.4 417.9,529.1 413.8,527.8M408.5,521.6 408.8,522.5M429.2,513.3 425.8,513.2 423.2,510.7 419.9,510.3M429.2,513.3 430.5,515.3M408.8,522.5 410.6,525.8 413.8,527.8M441.7,497.1 442.7,493.6 443.2,489.9 445,486.7M441.7,497.1 437.5,496.8 433.4,498M445,486.7 442.6,484 439.8,481.8 436.8,479.9 435,476.6 431.6,475.2M433.4,498 430.4,496.9 428.2,494.5 425.4,493.1M425.4,493.1 425.3,488.9 424.1,484.9M424.1,484.9 427.3,482.2 429.6,478.8 431.6,475.2M454.3,482.4 451.4,484.2 448.3,485.8 445,486.7M431.6,474.9 431.6,475.2M416.1,500.9 418.8,497.8 423,496.6 425.4,493.1M429.2,513.3 429.5,509.3 432.2,505.9 432,501.7 433.4,498M410.2,481.8 413.2,481.1 416.7,483 420.2,484.5 424.1,484.9M440,518.2 441.9,515.1 445.2,513.8 447.8,511.6M454.7,533 454.5,529.5 457.6,527 457.8,523.7 458.4,520.5M458.4,520.5 455.7,518.3 452.4,517 450.6,513.7 447.8,511.6M441.7,497.1 444.6,499.3 446.7,502.4 449.1,505M447.8,511.6 449.4,508.5 449.1,505M468.5,517.3 471.6,515.3 473.8,512.3 477.6,511.3 479.3,507.5 482.9,506.2M468.5,517.3 471,519.9 472.7,523.1 473.1,523.8M488,512.3 487.8,512.1 485.1,509.6 483.5,506.3M483.5,506.3 482.9,506.2M458.4,520.5 461.9,519.9 465.2,519 468.2,517.2M468.2,517.2 468.5,517.3M491.7,497 491.1,497.5 488.9,500.8 486.3,503.7 483.5,506.3M478.2,486.9 474.8,487.3 471.4,487.3 468.1,486.2 464.7,486.3 461.3,485.8M478.2,486.9 478.2,490.1 476.9,493.2 478.4,496.6 477.1,499.7M477.1,499.7 473.4,500.2 469.5,499.4 466,501.4 462.2,501.4M461.3,485.8 461.5,489.6 461.1,493.3 460,497 461,500.7M461,500.7 462.2,501.4M459.8,483.8 461.3,485.8M480.1,485.2 478.2,486.9M482.9,506.2 480.6,502.4 477.1,499.7M468.2,517.2 467.8,513.7 465.5,511 463.5,508.2 464.4,504.2 462.2,501.4M449.1,505 452,503.7 454.9,502.5 458.3,502.5 461,500.7M427.4,533.7 425.5,536.8 426.1,540.6 424.2,543.8 424.9,547.6 424.7,547.8M413.8,527.8 413.4,531.6 411.4,535 410.4,538.6 410.1,542.4M410.1,542.4 412.2,544.3M397.6,543.7 397.7,543.7 399.9,540.5M384.7,541.9 385.9,540.2 387.2,536.7 388.3,533.3 388.4,529.4M399.9,540.5 398.2,537.8 398.1,534.6 396.8,531.8M388.4,529.4 392.9,529.7 396.8,531.8M410.1,542.4 406.5,543 403.3,541 399.9,540.5M385.9,525.1 388.4,529.4M408.8,522.5 406,525.1 403.5,528 399.3,528.8 396.8,531.8M388.7,432.9 388.9,436.6 390.7,439.9M388.7,432.9 391.7,430.5 393.2,427 394.7,423.6 397.7,421.2 398.1,420.7M390.7,439.9 393.6,441.9 397.1,442.7 400.1,444.6M401.7,421.2 404.3,423.5 405.7,426.6 407.9,429.3M407.9,429.3 406.4,433 404.2,436.5 404.2,440.8 402.3,444.4M400.1,444.6 402.3,444.4M379.1,428.3 382,430.5 385.4,431.6 388.7,432.9M422.6,430.1 421.7,430.1 418.2,429.7 414.8,429.5 411.4,429.4 407.9,429.3M424,434.4 423.3,435.3 422.4,439.3 418.5,441.1 417.1,444.7 414.3,447.2 412.3,450.4M412.3,450.4 408.5,449.1 406.2,445.5 402.3,444.4M382.7,445.6 379,445.6 377,445M382.7,445.6 382.3,449.3 382.5,453.1 382.5,456.8 383.1,460.5M383.1,460.5 380.3,461.4M380.3,461.4 377.2,459.2 374.3,456.7 371.3,454.5 369.9,453.7M379.1,428.3 376.7,431.1 375.7,431.6M390.7,439.9 387.6,441.1 385.3,443.6 382.7,445.6M392.5,459.3 394.4,456.6 395.8,453.6 396.3,450.1 398.4,447.4 400.1,444.6M386.3,461.6 389.4,460.4 392.5,459.3M386.3,461.6 383.1,460.5M358.8,458.8 360.6,460.6 360.7,464.4 362.7,467.3M380.3,461.4 379.3,464.4 375.7,465.5 374.5,468.4M362.7,467.3 366.7,467.1 370.7,467.3 374.5,468.4M386.3,461.6 386.6,465.6 389.1,468.9 390.5,472.5 391,476.4M391,476.4 387.4,477.3 383.8,478.3 380.3,479.7 376.5,479.9M374.5,468.4 375.8,472.2 376.3,476 376.5,479.9M405.3,469.7 408.5,471.7 412,472.6 412,472.6M405.3,469.7 404.8,465.7M404.8,465.7 407.1,462.5 409.5,459.3 410.7,455.4 413.1,452.2M422.8,459 421.9,458.8 420,454.9 416.4,453.7 413.1,452.2M392.5,459.3 395.8,460.6 398.3,463.2 401.3,464.8 404.8,465.7M412.3,450.4 413.1,452.2M371.2,544.6 368.3,542 365.6,539.2 361.8,537.7M368.7,527 366.3,529.2 365.8,532.7 362.6,534.4 361.8,537.7M371.2,544.6 373.8,542.4 377.3,541.8 379.7,540.8M368.7,527 372.5,526.1 374.9,526.5M362.5,512 360.1,515 358.6,518.4M373.8,509.3 370.1,510.5 366.1,510.5 362.5,512M373.8,509.3 376.7,511.3M368.7,527 366.2,524.8 363.4,523 361.1,520.5 358.6,518.4M377.4,518.8 377.4,515.1 376.7,511.3M358.5,495.5 358.2,492.1 360.2,489.3 361.3,486.2 361.9,483.1M358.5,495.5 361.7,497 365.3,497.2 368.8,497.8 372.2,498.6M361.9,483.1 365.3,483.8 368.5,481.9 371.8,481.9 375.2,482.2M372.2,498.6 373.8,495.7 376.4,493.8 379.3,492.3M379.3,492.3 377.4,489.2 377.5,485.2 375.2,482.2M373.8,509.3 374.1,505.6 373.2,502.1 372.2,498.6M362.5,512 361.5,508.9 360.3,505.8 359.2,502.7 358,499.7 357.3,496.5M357.3,496.5 358.5,495.5M362.7,467.3 361.5,471.1 360.4,474.8 358.7,478.4M358.7,478.4 360.3,480.7 361.9,483.1M376.5,479.9 375.2,482.2M347.1,503.6 349.2,501.3 351.9,499.6 353.7,497M353.7,497 351.4,494.5 348.4,492.6 346,490.1 343.1,488.2 343,488.1M357.3,496.5 353.7,497M358.7,478.4 355.4,477.5 352.1,476.2 348.4,477.6 346.7,477.3M346.5,537.7 351.4,536.5M346.5,537.7 344.5,536.7M351.4,536.5 352.5,533.2 352.1,529.7 351.9,526.2 353.7,523 353.3,519.5M340.4,518.6 342,518.2 346,519.3 349.3,517.6M349.3,517.6 353.3,519.5M356.5,539.1 356.5,542.4 357.7,545.7 357.8,549.1 357.1,552.5M340.8,554.4 343.9,553.5 347.2,553.7 350.6,554.4 353.9,554.1 357.1,552.5M340.7,554.4 343,551.5 342,547.4 345.2,544.8 345.3,541.1 346.5,537.7M356.5,539.1 353.6,538.4 351.4,536.5M361.8,537.7 359.1,538.1 356.5,539.1M358.6,518.4 353.3,519.5M347.1,503.6 348,507 348.3,510.6 348.7,514.1 349.3,517.6M369.4,551.8 366.7,553.8 363.6,554.8 360.4,555.5M369.4,551.8 371.4,555 373.7,555.6M360.4,555.5 359.8,559.7 360.2,563.8M360.2,563.8 363.2,565.9 363.9,567.5M371.2,544.6 370.3,548.2 369.4,551.8M357.1,552.5 360.4,555.5M351.4,567.8 353.5,567.1 356.8,565.3 360.2,563.8M406.2,486.3 405.8,485.5 403.6,482.6 402.1,479.3 399.2,477M393.4,477.8 396.1,476.3 399.2,477M393.4,477.8 392.5,481.4 393,485.2 392.3,488.8 391.5,491.5M376.7,511.3 380.1,510.4 383,508.8 385,507.7M405.3,469.7 402.9,471.8 402.1,475.3 399.2,477M391,476.4 393.4,477.8M379.3,492.3 382.8,493.5 386.1,495.4 387.6,495.6M271.6,731.2 275,732.7 278.3,734.4M278.3,734.4 277.6,737.8 278.8,741.1M278.8,741.1 276.1,743.7 272.6,745.2 270,747.9M270,747.9 267.2,745.7 264.9,743.1 262.7,740.4M271.6,731.2 267,732M262.7,740.4 263.4,737.2 265.7,734.8 267,732M274.6,719.1 278.7,717.8 282.9,716.6M274.6,719.1 274,718.7M282.9,716.6 282.7,712.9 279.6,710.3 279.1,706.7M279.1,706.7 275.1,707.1 272.9,706M271.6,731.2 272.2,727 274.1,723.2 274.6,719.1M267,732 264.2,729.8 261.8,727.2M261.8,727.2 261.1,723.5 260.9,722.8M250.5,730.7 254.3,729.7 258,728.2 261.8,727.2M248.7,726.3 249.3,727.2 250.5,730.7M286.4,698.9 286.2,699.4 282.3,700.6 281.6,704.3 279.1,706.7M282.9,716.6 284.6,717.2M288.2,699.2 288.4,699.9 291.9,702.6 292.7,706.7M284.6,717.2 286.7,714.6 288.4,711.7 290,708.8 292.7,706.7M270,747.9 270.1,750.4M270.1,750.4 273.5,752.3 275.2,755.8M282.6,745.2 280.1,743.7 278.8,741.1M282.6,745.2 280.9,748.7 281.6,752.5M281.6,752.5 278.6,754.5 275.2,755.8M298.4,729.1 297.9,732.2 295.9,735 296.5,738.4M298.4,729.1 294.5,728.3 292,724.8 288.2,723.9M288.2,723.9 286.7,728.1 284.2,731.6M284.2,731.6 286.8,734.7 290.7,736.1 293.3,739.2M293.3,739.2 296.5,738.4M278.3,734.4 281.3,733.1 284.2,731.6M287.9,721.5 284.6,717.2M287.9,721.5 288.2,723.9M282.6,745.2 286.4,744.8 290.2,744.5M290.2,744.5 290.9,741.3 293.3,739.2M312.1,734.8 312.4,731.9M312.1,734.8 313.8,737.4 316.1,739.6 317.9,742.2M317.9,742.2 321.4,741.3 322.1,741.5M314.4,730.4 312.4,731.9M314.4,730.4 317.9,731.2 321.3,732.6 324.3,731.9M303.4,742.1 300.1,740 296.5,738.4M303.4,742.1 306.1,739.3 309.4,737.4 312.1,734.8M304.2,726.4 306.6,728.7 309.4,730.5 312.4,731.9M298.4,729.1 301.3,727.8 304.2,726.4M253.7,751.2 256.9,751.8M251.3,739 252,739.3 255.1,741.7 258.9,741.8M256.9,751.8 257.7,748.5 257.9,745.1 258.9,741.8M250.5,730.7 250,734.4 249.7,735.3M260.7,755.7 259,753.6 256.9,751.8M260.7,755.7 261.8,759 261.3,761.1M262.7,740.4 258.9,741.8M260.7,755.7 264.2,754.5 267.2,752.6 270.1,750.4M305.8,704.9 308.9,703.6 311.8,702 313.5,698.6 316.6,697.3M305.8,704.9 304.4,701.5 302.5,698.4 301.7,694.7 300.7,693.1M316.6,697.3 314.6,694.1 311.5,692 310.4,690.2M287.9,721.5 291.8,720.7 295.4,719 298.8,716.9M292.7,706.7 295.8,708.2 299.2,709M299.2,709 300,713 298.8,716.9M305.8,704.9 305.7,705.7M299.2,709 302.3,707.2 305.7,705.7M304.2,726.4 303.9,721.1M298.8,716.9 301.8,718.4 303.9,721.1M323,692 320,694.8 316.7,697.3M323,692 325.4,694.7 329.2,695 331.8,697.2 333.3,698M316.7,697.3 319,699.8 319.7,703.2 321.8,705.8M332.2,702.3 331.5,702.8 328.5,704.5 325,704.6 321.8,705.8M323.5,686.9 323.3,688.4 323,692M316.6,697.3 316.7,697.3M324.9,752.9 324.9,752.9 321.4,753.2 318,754.2M317.9,742.2 315.1,745.8 314.2,750.2M314.2,750.2 316.9,751.5 318,754.2M290.2,744.5 290.5,747.7 293.5,749.6 293.8,752.8M281.6,752.5 284,755 287.5,755.7M287.5,755.7 290.7,754.4 293.8,752.8M262.8,763.5 264.2,764.3 267.9,764.5M264.1,776.1 266,775.7 269.2,773.4M267.9,764.5 268.5,769 269.2,773.4M275.2,755.8 274.3,758.5 274.7,761.2M267.9,764.5 271,762.2 274.7,761.2M285.9,766.7 285.6,762.9 286.9,759.4 287.5,755.7M285.9,766.7 283,768M274.7,761.2 277,764.1 280,766.1 283,768M296.8,779.8 296.1,781.2M296.8,779.8 300,778.9 302.5,776.7 303.6,776.3M296.1,781.2 296.6,784.8 298,786.4M292.8,767.5 295.4,764.6 299,763.4M299,763.4 301.6,765.8 303.3,768.9 305.3,771.7 305.4,771.8M292.8,767.5 294.7,770.3 295.1,773.6 295,777 296.8,779.8M315.4,761.5 315.3,760.7 316.5,757.4 318,754.2M292.8,767.5 289.3,767.6 285.9,766.7M296.1,781.2 292.6,781.2 289.2,782.8 285.7,781.9M283,768 282.7,771.4 282.1,774.7 279.9,777.5M285.7,781.9 283,779.4 279.9,777.5M269.2,773.4 271.9,775.8 275.3,776.6 278.5,777.9M278.5,777.9 279.9,777.5M264.4,781.8 265.8,782.1 268,785.7 271.7,787M278.5,777.9 275.3,780.2 273.8,783.8 271.7,787M262.3,792.2 264.4,791.9 267.9,790.8 271.5,791.2M271.7,787 271.5,791.2M321.4,707.2 317.7,708.1 314.3,709.6 311.4,712.1M321.4,707.2 323.2,710.9 324.8,713.4M321.6,720 320.7,719.9 317.9,721.3M317.9,721.3 315,719.9 314.3,716.4 311.5,714.8M311.4,712.1 311.5,714.8M321.8,705.8 321.4,707.2M305.7,705.7 308.7,708.8 311.4,712.1M314.4,730.4 314.9,727.1 317.2,724.5 317.9,721.3M303.9,721.1 306,718.5 308.7,716.5 311.5,714.8M303.7,745.2 301.6,748.5 298.1,750.5 295.4,753.3M303.7,745.2 307,747.4 309.2,750.6M309.2,750.6 307.7,754.5 306.1,758.4M295.4,753.3 297.1,757.3 300,760.5M306.1,758.4 303,759.3 300,760.5M293.8,752.8 295.4,753.3M303.4,742.1 303.7,745.2M314.2,750.2 309.2,750.6M313.9,762.6 313,761.6 309.1,760.7 306.1,758.4M299,763.4 300,760.5M272.4,792.5 275.5,791.9 278.7,793.8 281.9,791.9 285,792.7M272.4,792.5 271.6,796.2 272.1,799.9M275.6,802.8 272.1,799.9M275.6,802.8 279.3,801.1 283.4,802 285,801.6M287.4,795.8 287.1,795.3 285,792.7M285.7,781.9 285.1,785.5 286.5,789.2 285,792.7M271.5,791.2 272.4,792.5M263,805.7 265.9,803.6 269.5,802.6 272.1,799.9M415.7,393 416.3,392.4M416.3,392.4 415.7,388.7 416.6,385.1 416.5,382.7M416.3,392.4 420,391.1 423.8,392.6 427.5,391.9M423.5,379.2 425.2,380.6 426.6,383.9 429.3,385.8M427.5,391.9 428.4,388.8 429.3,385.8M431.1,342.6 432.7,344.3 436.5,344.8 439.7,346.5M428.8,337.5 429.1,337.2 432.5,335.6 435.8,333.9 436.9,332M439.7,346.5 441.3,343.3 444.9,341.6 444.9,341.6M468.2,356.2 470.2,353.1 471,349.4M468.2,356.2 466.3,356.4M466.3,356.4 463.2,353.8 462.5,349.5 459.3,347 458,345M456.5,345.2 455.9,346.7 452.6,348.2 450.9,350.9 449.5,353.9M439.7,346.5 440.4,349M440.4,349 442.9,351.6 446.8,351.6 449.5,353.9M428.9,358.9 430,359.2 433.7,358.4M440.4,349 438.1,352.1 436.4,355.6 433.7,358.4M436.6,374 437.3,374.2M429.3,385.8 433.5,384.5 437.2,382.2M437.2,382.2 436.2,378.2 437.3,374.2M433.7,358.4 435.8,361.1 438.6,362.9M438.6,362.9 438.4,366.3 438.5,369.7 438.5,370.9M437.3,374.2 438.1,373.4M462.1,359.8 458.4,358.6 454.6,360.1 450.8,359.7M462.1,359.8 463.6,362.9 462.9,366.3 462.9,369.5 463.2,372.7M463.2,372.7 459.4,370.6 455.1,370.6 451,369.8M451,369.8 450.4,366.7 451,363.5 450.4,360.4M450.4,360.4 450.8,359.7M466.3,356.4 464.7,358.7 462.1,359.8M449.5,353.9 450.9,356.6 450.8,359.7M438.7,373.1 441.9,373.1 445.3,371.8 448.9,372.4M448.9,372.4 451,369.8M438.6,362.9 442.8,362.9 446.3,360.2 450.4,360.4M520.5,354.7 520.9,356.9M468.2,356.2 472,358.4 475,361.4M486.1,353.6 485.6,354.3 486.1,358.1M475,361.4 478.7,360.2 482.3,359 486.1,358.1M448.9,372.4 450.4,375.5 450.3,378.8 451.1,382M451.1,382 455.2,382.3 459.1,380.7 463.1,380.8M463.2,372.7 464.3,374.1M464.3,374.1 463.4,377.4 463.1,380.8M475,361.4 475.5,364.7 475.1,367.9 473.7,370.9M464.3,374.1 467.2,372.3 470.5,371.8 473.7,370.9M415.7,393 417.3,396.4 416.1,400.4 418.1,403.7 418.1,403.8M427.5,391.9 429.7,394 430.5,397M430.5,397 428.5,400.2 428.3,403.9 428.3,404.5M437.2,382.2 439,385 442.1,386.1M451.1,382 448.2,385.9M448.2,385.9 445.2,386.7 442.1,386.1M430.5,397 434.8,396.5 439,395.6M442.1,386.1 440.3,389 440.2,392.5 439,395.6M440.2,407.3 440.5,406.2 443.1,403.1 442.7,399.3M439,395.6 442.7,399.3M489.8,378.3 492.9,379.7 494.7,382.8 497.9,384M489.8,378.3 488.1,381.5 484.7,383.2 482.9,386.2M487.6,392 484.7,389.5 482.9,386.2M487.6,392 491.2,391.1 494.8,391.4M494.8,391.4 495.8,387.5 497.9,384M498.3,394.2 497.8,393.6 494.8,391.4M485.2,399.2 486.8,402.5 487.7,403.7M485.2,399.2 487.3,395.9 487.6,392M503,372.5 501.9,375.7 502.3,379 502.7,382.2M503,372.5 506.6,372.4 510,371.1 513.7,372.5 516.1,372.2M516.7,376.4 515.6,377.1 513.1,380 510.3,382.4 507.7,385.1M507.7,385.1 505.6,382.9 502.7,382.2M504.5,355.8 505.1,358.2M505.1,358.2 508.8,359.5 511.5,362.2 515.1,363.8 516.7,365.2M507.9,385.5 507.7,385.1M497.9,384 502.7,382.2M487,372 486.1,367.9 487.4,363.9 487.3,359.8M487,372 489.5,374.5M489.5,374.5 493.7,374.2 497.1,371.8 500.7,370M487.3,359.8 490.5,360.8 494,361 497.2,361.9 500.3,363.5M500.3,363.5 501.7,366.7 500.7,370M473.7,370.9 476.8,373.3M476.8,373.3 480.2,372.6 483.5,371.3 487,372M486.1,358.1 487.3,359.8M478,385.7 482.9,386.2M476.8,373.3 476.1,377.5 478.4,381.5 478,385.7M489.8,378.3 489.5,374.5M503,372.5 500.7,370M505.1,358.2 502,360.3 500.3,363.5M463.1,380.8 463.8,382.1M478,385.7 477.6,385.9M463.8,382.1 467,383.9 470.7,384.2 474,385.5 477.6,385.9M485.2,399.2 481.6,399.8 477.9,400 475,400.8M477.6,385.9 475.2,388.4 474.5,391.8 474,395.2 472.8,398.4 472.2,399.1M454.2,404.8 454,404.1 453.4,400.6 451.3,397.6M466.2,397.2 464.8,396.2 462.1,393.6M462.1,393.6 459.1,393.7 456.2,394.5 453.1,394.5M453.1,394.5 451.3,397.6M442.7,399.3 447,398.3 451.3,397.6M463.8,382.1 462.2,385.8 463.4,389.8 462.1,393.6M448.2,385.9 450.3,388.5 452.4,391.1 453.1,394.5M708.5,329.7 707.4,326.2 704.6,323.8 703.6,320.2 701.1,317.7 699.5,316.5M694.1,318.1 693.6,318.5 693.3,322.1 691.5,325.2 691,328.7M696.2,335.2 695.8,334.9 693.7,331.5 691,328.7M604.1,343.5 601,346.4 600.9,350.1M613.8,342.5 614.6,345 616.2,348.1 617.4,351.2M617.4,351.2 614.4,355M614.4,355 610.5,355.2 606.8,353.7 602.9,353.6M602.9,353.6 600.9,350.1M691,328.7 687.1,327.3 683.2,328.4M680.9,321.9 683.3,324.6 683.2,328.4M678.4,332.6 681.1,330.9 683.2,328.4M691.6,340.5 687.8,340.2 684.5,342.3M678.4,332.6 678.7,337.9M678.7,337.9 682,339.6 684.5,342.3M621.9,409.6 623.4,408.3 627.2,407.7 630.1,405.4M636,411.5 635.4,410.4 633,407.7 630.1,405.4M563.3,356 564.1,356.1 567.6,356.9M567.6,356.9 567.9,360.7 570.8,363.7 571.3,366.2M598.8,362.3 595.2,363.2 591.6,362M598.8,362.3 601.7,364.9 602.1,366.1M588.8,370.1 589.4,369.1 589.6,365.3 591.6,362M614.4,355 614.3,358.4 615.3,361.8 615.6,365.1M598.8,362.3 599.8,359.2 601.8,356.6 602.9,353.6M678.4,332.6 675,331.8 671.6,331.1 668.9,328.7 667.8,328.1M684.5,342.3 683.9,345.8 683.9,347.4M630.6,401.8 634.3,399.9 637.4,397.2M630.6,401.8 627.7,399.8 625.5,396.9 622.8,394.7M630.3,386.9 631.5,388.7 634.9,390.8 638,393.1M637.4,397.2 638,393.1M642,401.5 640.2,399.4 637.4,397.2M630.1,405.4 630.6,401.8M636.7,340.9 637.2,342 638,345.8 640.7,348.4M630.1,340.6 628.9,341.7 627.2,344.7 626.3,348.1 624.6,351.1M640.7,348.4 639,351.2 637.8,354.3 635,356.3M624.6,351.1 626.9,353.7 629.7,355.9M629.7,355.9 635,356.3M651,340.3 651.8,341.8M645.3,348.8 647.1,346.1 649.5,344 651.8,341.8M645.3,348.8 640.7,348.4M617.4,351.2 621,351.2 624.6,351.1M620.5,370.6 621.2,370.4 624.1,369M624.1,369 625.7,365.8 626.5,362.3 629.3,359.6 629.7,355.9M581.5,359.3 585.2,358.5 588.9,359.5M581.5,359.3 580.3,356 578.1,353.2 575.7,350.5M588.9,359.5 588.9,356 590.4,352.9 591.4,349.6M591.4,349.6 588.2,347.3 587.6,345.5M577.6,344.1 577.2,346.8 575.7,350.5M576.8,367.1 577.4,365.1 579.1,362 581.5,359.3M591.6,362 588.9,359.5M567.6,356.9 570,354.3 573.2,352.8 575.7,350.5M600.9,350.1 597.8,349.8 594.6,349.2 591.4,349.6M655.6,358.6 658.5,360.7 662.2,360.2 665.4,360.9M655.6,358.6 656.3,354.5 656.9,350.4 659.2,346.8M673.3,352.5 673.3,352.4 671.3,349.5 670,346.3M659.2,346.8 662.5,345 666.3,344.5M670,346.3 666.3,344.5M678.7,337.9 675.2,340 672.3,342.9 670,346.3M663.4,332.5 664,333.6 663.9,337.5 664.8,341 666.3,344.5M651.8,341.8 654.4,343.3 656.5,345.5 659.2,346.8M645.3,348.8 647.4,352.3 650.6,355.1 652,359.1M635,356.3 637.4,358.4 639.4,360.9 640.4,364M652,359.1 647.8,359.9 644.4,362.5 640.4,364M655.6,358.6 653.2,359.4M652,359.1 653.2,359.4M637.6,372.3 637.3,375.9M637.6,372.3 638.4,371.6M638.4,371.6 642.3,371.5 646.1,372.7 650,372.8 652,373.9M637.3,375.9 640,378.4 641.9,381.3 643.3,384.7 645.7,387.4M645.7,387.4 649.5,386.5 650.3,386.8M633,382.7 635,379.5 637.3,375.9M624.1,369 627.7,368.8 630.6,371.7 634.5,370.6 637.6,372.3M640.4,364 639.2,367.7 638.4,371.6M653.2,359.4 652.7,363.2 654.4,367 652.5,370.9 653,372.8M638,393.1 640.1,390.5 642.9,389 645.7,387.4M610.9,326.6 612.5,323.8 615.6,321.9 617.7,319.2 617.9,318.1M615.7,331 617.3,331.5 620.7,334 624.8,334.4M625.3,340 626.1,337.8 624.8,334.4M623.2,317.3 623.2,319.8 626.5,321.9 627.5,325.5 629.8,328.3M624.8,334.4 627.5,331.4 629.8,328.3M657.5,295.1 657.7,298.5 657.4,302 657.3,305.6M657.3,305.6 656,306.9M638.7,306.5 642.1,307.4 645.6,305.9 649.1,305.7 652.5,307.5 656,306.9M635.1,327.8 636.5,331 639.8,332.8 640.8,336.4 644,338.2 645.1,340M635.1,327.8 636.4,324.9 638,322.3 640.6,320.3M640.6,320.3 643.9,320.2 647.1,321.5 650.3,322.2 653.6,322.3M646.8,340.1 648.5,338.3 650,334.8 650.8,331 653.2,328 655.1,324.7M655.1,324.7 653.6,322.3M629.8,328.3 635.1,327.8M635.7,308.3 636.1,309.9 638.3,313.1 639.7,316.6 640.6,320.3M656,306.9 656.2,310.8 653.8,314.4 654.6,318.5 653.6,322.3M666.4,327.8 664.8,327.3 661.7,326.1 658.6,324.5 655.1,324.7M671.7,323.8 672,321.8 672.3,318.2 672.3,314.5 672.1,310.8M672.1,310.8 668.7,308.7 664.4,309.1 660.7,307.8 657.3,305.6M698.7,282.5 699.1,283.6 699.5,287 699,290.6M714.7,285.5 714.6,286.3 711.8,288.7 709.2,291.1 707,294M699,290.6 703.3,291.5 707,294M692.6,294.2 693.1,298.3 692.2,302.2 691,306.1 691.1,310.1M692.6,294.2 689.3,293.6 687.1,290.5 683.4,290.5 680.6,288.9M680.6,288.9 676,290.8M676,290.8 677.6,294.6 676.1,298.8 676.5,302.8 678.2,306.6M678.2,306.6 681.7,306.3 684.9,307.3 687.6,310.1 691.1,310.1M684.7,281.3 684.1,282.5 681.9,285.4 680.6,288.9M699,290.6 695.2,291.3 692.6,294.2M668,287.4 669.1,288.2 672.3,290.3 676,290.8M672.1,310.8 674.8,308.2 678.2,306.6M707,294 707.6,298 709.6,301.6M691.1,310.1 691.6,310.7M709.6,301.6 706.9,303.7 703.4,304.3 700.9,306.8 697.3,307.1 694.7,309.4 691.6,310.7M693.2,317.1 692.3,314.1 691.6,310.7M720.4,301.4 719.3,303.7M709.6,301.6 712,302.7 714,304.6M719.3,303.7 714,304.6M742.7,309 742.5,309 738.9,309.5 735.6,311.2 732.1,311.9 728.6,312.7M719.3,303.7 721.5,306.1 723.5,308.6 727,309.6 728.6,312.7M725.4,321.3 721.9,321.4 718.4,320 714.9,320 711.3,320.2M725.4,321.3 728,324 728.4,328 729.9,329.4M712.4,334.1 712.2,333.7 709.7,331.1 709.4,330.6M710.6,321.6 711.3,320.2M714,304.6 713.6,308.5 713.6,312.6 712.1,316.3 711.3,320.2M728.6,312.7 726.6,315.2 725.3,318 725.4,321.3M693.7,337.9 694.8,340.2 697.2,342.9 698.1,344.5M554.1,346.1 554,349 553.8,352.5M562.2,357.5 560.7,354.8 557.5,353.2 553.8,352.5M483.8,427.7 484.3,428.3 488.2,429.6 490,432.8M471.5,433.6 472.2,435.1 475.2,437.5 477.7,440.1 478.8,443.8 479.3,444.4M482.5,445.5 483.8,444.5 484.8,441.2 487.4,438.9 487.9,435.3 490,432.8M542.5,341.1 540.4,343 537.7,345.1 534.8,346.9M534.8,346.9 531.2,346.2 528.3,343.7 525,342.1 523.2,342.3M528.8,387 531.2,384 532.3,380.5 533.4,378.2M528.8,387 530.1,388.6M517.3,364 519,364 522.2,365.2M516.7,380.9 518.5,382.8 521.7,384.9 525.1,386.2 528.8,387M517.6,400.3 519.6,400 520,400M553.8,352.5 550.6,354.7 549.1,358.5 548.9,358.7M534.8,346.9 536.7,350.4 535.9,353.5M527.4,425.9 530.7,424.3 533.6,423.3M520.9,421.6 523.8,424.3 527.4,425.9M520.9,421.6 523,418.6 524.7,415.3 525.9,411.8 529.6,409.7 529.6,408.9M490,432.8 493.7,432.6 497.3,432.8M497.3,432.8 497.4,428.8 499.4,425.3 501,421.6 500.9,420.5M520.9,421.6 517.7,422.2M508.1,414.5 508.4,414.9 511.8,417 514.9,419.4 517.7,422.2M497.3,432.8 499.5,434.5M517.7,422.2 516.8,425.5 514,428 513.4,431.5M499.5,434.5 502.7,432.5 506.7,434.1 510.2,433.3 513.4,431.5M484.3,450.4 484.3,450.4 487.9,451 491.5,451.2 494.9,449.5 498.6,450.5 502.1,449.8M499.5,434.5 500.3,438.3 499.7,442.3 500.3,446.2 502.1,449.8M543.1,469.9 540.8,470.3 537.3,469.1M527.5,480 528.7,477M528.7,477 531.2,474 533.7,470.9 537.3,469.1M530.4,436.6 533.9,438.1 537.7,438 540.6,438.7M530.4,436.6 527.7,439.8 524.2,442.3 521.6,445.6M521.6,445.6 523.5,448.4 525.7,451 528.6,452.8 530.9,455.3M541.6,450.9 539.8,453.4 535.7,453.5 532.5,455.6M532.5,455.6 530.9,455.3M527.4,425.9 527.5,429.7 529,433.1 530.4,436.6M513.4,431.5 514.1,435.3 516,438.6 517.5,442 519.4,445.3M519.4,445.3 521.6,445.6M537.3,469.1 536.5,465.6 535.2,462.3 534.2,458.8 532.5,455.6M521.6,465.2 524.1,462.9 526.6,460.6 529.2,458.4 530.9,455.3M521.6,465.2 522.6,468.6 525.4,470.9 527.4,473.8 528.7,477M509.6,470.6 505.8,468.7 503.1,465.5 500.2,462.5M509.6,470.6 513.2,468.4 515.6,465M515.6,465 514.4,461.4 513.4,457.7 511.1,454.4 511.2,450.4M500.2,462.5 500.4,458.3 502.9,454.5 502.5,450.2M502.5,450.2 506.9,449.6 511.2,450.4M495.2,465.5 497.4,464.7 500.2,462.5M508.9,478.6 509.1,477.7 509.4,474.2 509.6,470.6M521.6,465.2 518.6,466.3 515.6,465M519.4,445.3 516.8,447.3 514,448.8 511.2,450.4M502.1,449.8 502.5,450.2M516.9,392.4 516.8,392.4 513.1,392 509.7,393.2 506,392.9 502.8,395.5 499.2,395.2M468.4,412.1 464.9,411.8 461.6,410.9 458.4,409.7 455.7,407.3 452.7,406.4M468.4,412.1 469.6,408.4 472.1,405.7 475.2,403.5 475.7,402.7M499.1,395.3 500,399.4 500.8,403.6M511.3,408.4 510.6,408.4 507.3,406.9 504.4,404.4 500.8,403.6M448.8,407 448.8,409.8 450.1,413 450,416.5 452.6,419.4 452.1,422.9M469.3,419.9 469.5,415.9 468.4,412.1M469.3,419.9 466.8,421.8 463.5,422.4 461.3,424.9M461.3,424.9 458.3,423.7 455.1,424 452.1,422.9M461.3,424.9 461.6,428.9 460.8,432.8 459.5,436.6 459.9,440.6M469.3,419.9 470.6,420.9M470.6,420.9 472.8,423.7 473.1,427.2 473.9,430M472.7,443.2 471.5,443.9M471.5,443.9 467.6,442.8 463.5,442.7 459.9,440.6M471.1,454.8 470.9,454.5M470.9,454.5 467.6,455.3 465.2,457.7 462.5,459.7M502.1,418.6 502,418.3 499.7,415.3 499.9,411.5 498.2,408.4M488.2,424.4 487.8,423.9 486.4,420.4M486.4,420.4 488,417.6 488,414.5 487.6,411.4M487.6,411.4 491,409.9 494.8,409.7 498.2,408.4M500.8,403.6 500.6,406.6 498.2,408.4M471.5,443.9 472.4,447.5 471.8,451 470.9,454.5M470.6,420.9 474.6,419.8 478.5,420.1 482.5,420.6 486.4,420.4M482.6,406 485.9,407.8 487.6,411.4M433.8,420.3 432.3,417.3 429.9,414.6 430.4,410.6 427.5,408.2 427.1,405.3M433.8,420.3 433.6,421.3M433.6,421.3 431.8,422.6M431.8,422.6 428,423.3 424.3,423.4 420.5,422.5 418.9,423.1M413.7,417.8 413.9,417.5 416.8,414.8 418.8,411.6 420.1,407.8 422.5,404.8 423,404.1M448.4,407.1 447.1,409.6 443.2,410.4 441.9,414 439.4,416.3 436.7,418.5 433.8,420.3M452.1,422.9 448.5,425.5 445.3,428.5M445.3,428.5 442.7,426.2 439.2,425.2 436.1,423.8 433.6,421.3M429.7,439.1 433,439 436.4,438.6 439.5,440.8 443,439.6 446.2,440.9M429.7,439.1 431,435.9 430.2,432.5 430.6,429.2 432,426 431.8,422.6M445.3,428.5 444.9,432.7 446.7,436.7 446.2,440.9M427.1,441.2 429.7,439.1M446.8,441.6 451.7,443.4M446.8,441.6 444.5,444.7 441.5,447.3 441.2,451.8 438.9,454.9 435.9,457.5M451.7,443.4 452.6,446.6 454,449.8 452.8,453.4 454.2,456.5M454.2,456.5 452.3,459.8 449.3,461.3M436.3,458.8 435.9,457.5M446.2,440.9 446.8,441.6M459.9,440.6 455.7,441.8 451.7,443.4M429.7,452.1 431.3,452.5 433.8,454.7 435.9,457.5M462.5,459.7 458.2,458.4 454.2,456.5M234.2,195.6 235.7,198.7 237.9,201.3 240.3,203.7 242.6,206.3M227.5,198.1 231.3,198 234.2,195.6M234.7,214.6 237.5,214.1 239.6,210.9 242.8,209.1M242.6,206.3 242.8,209.1M229.9,184.8 231.1,187 232.7,190.2 235.1,193M236.6,176.6 238.8,179.2 242.4,181.1 244.8,183.8 246.7,187.1M246.7,187.1 244.3,189.6 240.6,189.4 237.6,190.7 235.1,193M234.2,195.6 235.1,193M248.6,231.1 248.9,230.6 251.6,228.1 252.9,224.6M242.8,209.1 246.6,210.8M252.9,224.6 251.3,221.1 250.3,217.4 248.8,213.9 246.6,210.8M252.9,224.6 255.8,223.1 259.1,222.7M257.6,207.9 253.7,207.9 250.5,210.6 246.6,210.8M257.6,207.9 259.8,211.1 263.4,212.2M259.1,222.7 261.5,219.6 260.9,215.3 263.4,212.2M290.9,223.2 290.4,219.1 287.4,215.8 287.2,211.7M290.9,223.2 294.4,222.2 297.4,220 300.1,218.2M297.4,208.8 294.2,209.6 290.7,210.7 287.2,211.7M292.8,196.8 291.8,197.1 288.5,198.8M287.2,211.7 287.2,211.6M287.2,211.6 286.6,208.3 288.6,205.3 288.3,202 288.5,198.8M257.6,207.9 257,204.5 258.8,201.3 258.3,197.9M242.6,206.3 245.4,204 247.6,201.2 249.2,198 250.8,194.8M258.3,197.9 254.5,196.5 250.8,194.8M246.7,187.1 247.5,187.2M250.8,194.8 249.3,190.9 247.5,187.2M247.5,187.2 250,185.1 251.8,182.3 254.9,180.8M267.6,235.4 270.6,237 273.8,238 274.3,237.9M267.6,235.4 267.6,231.4 266.6,227.5M266.6,227.5 270.4,225.5 273.5,222.4M273.5,222.4 276.6,224.6 279.2,227.4 281.2,228M259.7,241.1 262.1,240 265.5,238.6 267.6,235.4M259.1,222.7 262.6,225.5 266.6,227.5M290.9,223.2 290.8,224.6M272.8,200.9 275.7,203 277.8,205.7 280.3,208.1 282.2,211.1M272.8,200.9 271.2,204 269.6,207.1 267.2,209.6 264.6,212M282.2,211.1 279,212.7 276.2,214.8 273.5,217.2M264.6,212 267.4,214.1 270.1,216.2 273.5,217.2M287.2,211.6 282.2,211.1M273.5,222.4 273.5,217.2M263.4,212.2 264.6,212M273.9,179.1 271.7,181.4 268.6,182.5 265.2,183.1 262.6,185.4M279.7,185.3 279.7,188.7 278.3,192.5M278.3,192.5 275.2,195.1 272.5,198.1M262.6,185.4 261.9,188.8 262.7,192 263.8,195.2M272.5,198.1 269.6,197.2 267,195.2 263.8,195.2M254.9,180.8 258.9,182.8 262.6,185.4M288.5,198.8 285.1,196.7 281.8,194.4 278.3,192.5M272.8,200.9 272.5,198.1M258.3,197.9 261.4,197.2 263.8,195.2M283.6,227.9 284.1,229.2M275.6,247.4 275.8,247.3 279,245.5 282.6,245.1M284.1,229.2 282.8,233.1 283.9,237.2 281.7,241 282.6,245.1M288,248.3 292,247.1 294.4,243.6 297.9,241.7 301.2,239.6M282.6,245.1 285.7,246.1 288,248.3M284.1,229.2 287.9,230.6 291.7,232 295.4,233.5 299.4,234.5M299.4,234.5 301.2,239.6M299.4,234.5 301.3,231.4 303.1,228.3 304.1,225.6M304.9,241.6 301.2,239.6M304.9,241.6 305,245.6 306.4,249.4 305.5,253.4 306.1,257.3M288,248.3 288.1,251.5 290.5,254 290.6,257.2M306.1,257.3 302.2,257.2 298.4,258.1 294.5,256.9 290.6,257.2M275.8,261.7 277.5,261.1 281,261.4 284.6,262.2 288.2,262M288.2,262 290.6,257.2M316.6,231.9 315.7,234.1 312.8,236.5 311.8,240M327.1,237.1 327.4,239.5 326,242.9M326,242.9 322.9,245.2 319,245.3M311.8,240 315.1,243 319,245.3M304.9,241.6 308.4,241.3 311.8,240M337.4,246.9 336,247.9 334.8,251.5M334.8,251.5 331.7,248.8 328.4,246.3 326,242.9M288.2,262 288.7,264.3M306.1,257.3 307.5,259.9 310.2,261.2M300.4,273.9 300.8,273.3 303.8,270.8 305.3,267 307.2,263.7 310.2,261.2M332.6,273.3 329.7,274.6 326.4,274.4 323.5,275.6M332.6,273.3 334.7,270.3 335.8,266.7 338.8,264.1 339.4,260.3M323.5,275.6 321.5,274.9M321.5,274.9 319.2,272.1 319.5,268.2 316.9,265.4 316.4,261.9M334.8,255.7 331.6,257.4 328.2,258.8 324.4,258.4 321.2,260.2 317.6,260.7M334.8,255.7 337.6,257.5 339.4,260.3M317.6,260.7 316.4,261.9M330.6,290.7 330.2,288.4 327.5,285.7 325.9,282.4 324.4,279.2 323.5,275.6M337.4,277.2 335.7,275.2 332.6,273.3M344.1,262.2 342.7,262 339.4,260.3M312.3,285 314.3,283.1 316.9,280.5 319.2,277.7 321.5,274.9M310.2,261.2 313.3,261.3 316.4,261.9M334.8,251.5 334.8,255.7M319,245.3 319.7,249.2 319.1,253 318.2,256.8 317.6,260.7M251.5,236.1 249.8,238.4 248.2,242 246,245.1M250.7,248 249.3,246.8 246,245.1M200,211.7 200.5,211.9 203.9,212.8 207.6,212.9M199.8,223.4 202.2,222.5 205.7,223M207.6,212.9 206,216.1 206.5,219.7 205.7,223M207.6,212.9 210.2,210.7M208.5,203.2 208.7,203.6 210.4,206.9 210.2,210.7M244,245.4 242.3,247.9 240.6,250.5 239.1,253.1M244,245.4 240.6,243.2 237.4,240.7 234.5,237.9M234.5,237.9 232.5,238.3M239.1,253.1 234.8,253.6 230.8,252.3M230.8,252.3 230.8,249.1 232.2,245.9 232.1,242.7 231.3,239.4M232.5,238.3 231.3,239.4M240.8,254.8 239.1,253.1M246,245.1 244,245.4M239.8,231.9 237.6,235.2 234.5,237.9M248.5,232.6 247,232.9 243.4,230.9 239.8,231.9M227.1,255.5 229.5,258.3 230.9,261.6 231.2,263.3M227.1,255.5 230.8,252.3M227.1,255.5 224,255.3 221,255.4M221,255.4 219.2,258.6 217.6,261.9 216.5,265.4 216.4,266.8M219.9,197.8 220.4,198.5 222.4,201.8M210.2,210.7 214.1,211.8 218.2,211.8M218.2,211.8 219.9,210.6M222.4,201.8 221.7,204.8 220.1,207.5 219.9,210.6M237.8,223.6 233.7,224.2 230,222.4M230,222.4 230.1,217.9 229.6,213.5M229.6,213.5 231.9,211M225.8,225.8 226.5,229.4 228.8,232.2 230.3,235.4 232.5,238.3M239.8,231.9 239.4,227.6 237.9,223.7M225.8,225.8 227.9,224.1 230,222.4M218.2,211.8 218.1,215.3 217.9,218.8 219.2,222.1 219.4,225.6M219.4,225.6 222.6,225.7 225.8,225.8M219.9,210.6 223.4,210.6 226.5,211.8 229.6,213.5M222.4,201.8 226.1,201.7 227.6,201.1M201.6,259.8 199.8,259 197.5,256.6 196.4,253 193.7,251.1M203.9,259.8 206.5,258.1 208.1,254.1M208.1,254.1 206.9,249.8 206.2,245.4M206.2,245.4 202.1,246 198.2,247.7 194,247.9M194,247.9 193.7,251.1M184.7,258.4 185.4,257.9 187.7,255.1 190.5,252.9 193.7,251.1M221,255.4 220.4,254.8M220.4,254.8 216.2,255.3 212.2,254.8 208.1,254.1M190.7,240.9 192.1,244.4 194,247.9M217.9,240.7 217.6,241M217.9,240.7 217.1,237 218.1,233.5 218.2,229.8 218.6,226.2M217.6,241 213.2,241 208.8,241.1M218.6,226.2 215.2,225.3 211.8,224.9 208.4,225.8M208.4,225.8 208,229.5 207.2,233 205.5,236.3M205.5,236.3 207.7,238.3 208.8,241.1M231.3,239.4 227.8,238.6 224.5,239.3 221.3,241.2 217.9,240.7M220.4,254.8 218.8,251.5 219.8,247.8 218.1,244.5 217.6,241M219.4,225.6 218.6,226.2M206.2,245.4 208.8,241.1M205.7,223 208.4,225.8M194.4,236 197.7,235.8 201.6,235.9 205.5,236.3M238.5,309.5 235.6,309.3M218.3,279 218.9,278.7M223.3,292 225.8,291.3 229,289.9M218.9,278.7 222.2,280.8 226.4,280.6 229.9,282.3M229.9,282.3 229.7,286.1 229,289.9M207.2,267 207.1,270.3 206.8,273.6 206,276.5M207.2,267 210.2,264.4 210.9,262.9M223.1,266.2 222.4,268.2 220.5,271.5 220.1,275.2 218.9,278.7M198.8,264.8 200.1,265.9 203.6,266.6 207.2,267M229.1,302 229.3,300.7 231.5,297.6 234.6,295.2M234.6,295.2 231.9,292.4 229,289.9M228.7,265.1 229.9,266.7 233.5,268.4M235.7,278.2 236.1,274.7 234.7,271.6 233.5,268.4M235.7,278.2 232.9,280.4 229.9,282.3M240.1,280.2 241.3,283.7 242.1,287.2M235.7,278.2 240.1,280.2M234.6,295.2 235.3,295.1M242.1,287.2 240.8,290.6 238.1,293 235.3,295.1M241.6,308.5 241.3,306.8 242.4,303.8 242.5,300.8M235.3,295.1 237.6,297.1 240.9,297.9 242.5,300.8M233.5,268.4 236.5,266.2 240,265.4 243.9,266 246.9,264M246.9,264 248.2,266.8 250.1,269.3M240.1,280.2 242.5,278.2 245.9,278.2 248.4,276.4M250.1,269.3 250.3,273.1 248.4,276.4M260.4,255.7 257.3,257.8 254.1,259.5 250.3,260.2 247.3,262.3M260.4,255.7 259.6,252 257.4,249.1 255.8,245.8 255.5,244.6M247.3,262.3 245.8,259 243,256.2 243.2,254.7M246.9,264 247.3,262.3M250.1,269.3 253.7,269.2 257.4,269.5 259.6,270.1M248.4,276.4 251.6,278.7 254.3,281.5M254.3,281.5 257.7,280.6 260.2,279.9M260.4,255.7 262.3,257.7M263.7,317.2 263.6,316.3 260.9,313.6 259.9,310.1M267.2,304.6 265.6,305.5 262.3,307.1 259.9,310.1M254.5,309.2 255.5,308.6M259.9,310.1 255.5,308.6M248.3,290.4 248.7,293.8 248.5,297.2M248.3,290.4 251.5,289.8 253.5,287.4M253.5,287.4 256.1,290.2 257.5,290.6M248.5,297.2 251.1,299.8 254.8,300.6M254.8,300.6 256.1,299.8M242.1,287.2 245.6,288.1 248.3,290.4M242.5,300.8 244.9,298 248.5,297.2M254.3,281.5 252.8,284.2 253.5,287.4M255.5,308.6 254.7,304.7 254.8,300.6M247,735.2 246.6,735.4 243.2,736.8 240.2,738.8 237.3,741M240.1,729.2 237.8,728.4 234.3,729.7M237.3,741 234.3,738.4 232.9,734.7M234.3,729.7 232.9,734.7M234.1,721.9 233.4,722.7 232.1,726.1M232.1,726.1 234.3,729.7M223.4,717.3 223.7,721.2 221.3,724.2M217.8,709.3 215.2,709.6 213.8,711.7M221.3,724.2 220.9,724.4M232.1,726.1 228.6,724.6 224.9,724.7 221.3,724.2M232.9,734.7 229.4,735 226.7,736.2M232,748.3 233.1,747.9 236.2,746.1M236.2,746.1 237.3,741M247.1,787.1 247.3,786.4 250.2,784M251.8,795.5 254,794.6 257.2,793 260.5,791.5 261.3,791.3M262.5,786.5 260.3,786.1 256.9,785.8 253.5,785.3 250.2,784M263.6,779 260.9,777 257.7,775.4 254.9,773.2M250.2,784 249.5,780.4 249.3,776.7M249.3,776.7 251.8,774.5 254.9,773.2M249.3,776.7 246.4,774.3 242.7,774 242,774M261.3,766 258.5,766.6 255.1,767.8M255.1,767.8 254.3,770.5 254.9,773.2M239.1,766.3 240.4,766 244.2,765.9 247.8,765.3 251.4,763.8M238.5,764.9 239.1,764.2 239.2,760.4 241.3,757.6 243.1,754.6 244.3,751.3M244.3,751.3 244.5,751.3M244.5,751.3 246.9,754 249.5,756.4 251.6,757.9M252.3,758.4 252.5,758.6M252.5,758.6 251.4,763.8M255.1,767.8 253.4,765.6 251.4,763.8M236.2,746.1 239.5,747 241.4,749.9 244.3,751.3M250.7,746.1 250.1,746.6 246.7,748.3 244.5,751.3M252.6,758.5 252.5,758.6M640.7,414.9 643.7,412.2 647.7,413.5 650.9,411.6M652.8,418.6 653,418.1 653.3,414.5M650.9,411.6 653.3,414.5M642.8,403 643.8,403.5 647.4,403.6 651.1,403.2M651.1,403.2 652,404.4M652,404.4 652.2,408.1 650.9,411.6M677.1,379.4 676.2,380.3 673.2,382.3M666.4,377.4 666.4,377.5 666.6,381.2M673.2,382.3 669.8,382.5 666.6,381.2M673.2,382.3 673,385.4 675.7,387.9 675.3,391.1M679.4,391.5 678.8,391.5 675.3,391.1M665.3,395.2 665.7,391.1 663.8,387.1 664.7,383M665.3,395.2 662,395 658.8,394.4 655.8,393.4 652.9,391.7M664.7,383 661.2,382 657.6,383.1 654.8,382.7M652.9,391.7 650.5,389.6M666.6,381.2 664.7,383M651.1,403.2 652,399.4 651.6,395.4 652.9,391.7M653.3,414.5 657.2,414.7 661,415.1M661,415.1 661,418.7 662.3,420.4M664.6,411 668.1,410.4 671,410M664.6,411 661.8,408.1 660.6,404.3M673.8,404.3 673.7,401.4 671.1,398.8 669,395.9M660.6,404.3 662.2,401.3 663.4,398.1 665.5,395.4M665.5,395.4 669,395.9M661,415.1 664.6,411M652,404.4 656.3,404.6 660.6,404.3M675.3,391.1 672.7,394.3 669,395.9M665.3,395.2 665.5,395.4M566.5,368.3 567.1,369.7 570.2,372.4 571,375.9 571.6,379.7 573.9,382.6M572.6,385.2 573.9,382.6M583,376.2 579.9,378.2 576.3,379.5 573.9,382.6M583,376.2 582.9,372.3 583.8,370M583,376.2 586,379 589.6,381.3 591.9,384.9M597.7,370.1 599,371.8M591.9,384.9 593.6,382 596.8,380.6 598.7,378M599,371.8 599.3,374.9 598.7,378M599,371.8 602.6,371.1 606.2,372 609.7,371.7M609.7,371.7 611.5,368.6 614.3,366.1 614.4,366M608.9,385 611.2,382.6 613.8,380.6M608.9,385 608.1,386.6M622.6,387.7 620.8,386.7 618.4,384 617.3,380.4M617.3,380.4 613.8,380.6M598.7,378 601.6,381 605.9,382.1 608.9,385M609.7,371.7 611.2,374.6 612.7,377.5 613.8,380.6M621.6,375.6 620.4,378.5 617.3,380.4M628.9,415.2 628.3,417.9M628.3,417.9 624.8,418.7 622.3,420.7M629.2,461.6 631.1,461.9 634.6,460.1 638.3,460.8 641.6,459.7M627.4,452.9 630.9,451.5 632.5,447.8 635.8,445.7M635.8,445.7 638.6,448.3 641.7,450.7 642.5,453.3M625,441.6 628.3,441.5 632,441.3 635.6,442.8M635.6,442.8 635.8,445.7M637.2,439.5 640.4,438.6 643.8,438.4 646.7,436.5 646.8,436.5M637.2,439.5 635.4,436.4 633.5,433.3 632.7,429.6M648,430.1 647.7,429.8 645.2,427.6 642.7,425.3 640,423.3M640,423.3 637.5,425.6 634.2,426M632.7,429.6 634.2,426M635.6,442.8 637.2,439.5M623.4,430.4 625.9,430.7 629.4,431.1 632.7,429.6M643.1,417 640.4,419.6 640,423.3M628.3,417.9 629.3,421.3 632.8,422.9 634.2,426M652.2,375.3 654.5,377.3 656.2,379.6M665.8,362.6 666.2,362.6 669.4,365 673.3,364.8 676.8,366M679.9,359.2 678.2,356 674.9,354 674.6,353M679.9,359.2 679.5,362.1 679.4,365M676.8,366 679.4,365M664.7,376.5 664.8,376 665,372.5 663.3,369.2 664,365.7M674.3,374.5 675.1,372.8 674.9,369 676.8,366M690.5,352.1 688.8,352.9 685.8,355 683.4,357.8 679.9,359.2M687.7,370.6 686.2,367.7 682.5,366.9 679.4,365M613.6,420.8 615.1,417.3 618.2,415.2M613.6,420.8 610.6,419.2 608.2,416.9 606.1,414.9M618.2,415.2 616.8,412 616,410.9M621.1,413.9 618.2,415.2M613.6,423.6 615.9,426.5 616,426.8M613.6,423.6 609.5,424 606.4,427.1 602.3,427.6M610.5,438.2 608.8,438 605.5,436.4M605.5,436.4 602.6,433.6 601.2,429.8M602.3,427.6 601.2,429.8M613.6,420.8 613.6,423.6M599.6,418.9 600.6,420.2 600.9,424.1 602.3,427.6M600.8,440.2 602.9,438.8 605.5,436.4M597.6,430.9 597.8,430.9 601.2,429.8M522.1,325.7 523.4,327 525.4,330.3 528.3,333 530.6,335.6M531.8,310.8 531.6,312.3 530.2,315.7 528.7,319 526.2,321.9M539.9,322.4 538.4,322.5 535.6,324.8M526.2,321.9 529.3,323 532.5,323.5 535.6,324.8M522.2,323.7 523.5,323.3 526.2,321.9M533.1,335.2 533,331.8 535.2,328.5 535.6,324.8M192.4,636.9 189,635.6M189,635.6 185.5,636.5 184.6,636.5M186.9,628.3 187,628.6 187.7,632.2 189,635.6M175,127.3 183.3,124 200,125.3 213.3,128.7 225,130.7 243.3,126.7M264.5,164.2 262.5,165.4 260.4,168.7 258.8,172.5 256.3,173.7M181.5,161.7 179.4,158.6 178.1,155.1 177.4,151.3M181.5,161.7 179.1,164.6 176.4,165.8M174.6,150.5 177.4,151.3M198,157 196.7,161.3 194.5,165.2M198,157 197.7,156.6M197.7,156.6 194,155.3 190.2,154.9M183.1,161.9 186.2,160.3 187.9,157.3 190.2,154.9M183.1,161.9 184.5,165 187.4,166.7M194.5,165.2 191,166.1 187.4,166.7M181.5,161.7 183.1,161.9M186.6,175 186.6,173.2 186.5,169.9 187.4,166.7M205.9,142.4 202.6,144.5 199.4,146.9M205.9,142.4 209.2,143.4 212.7,143.3 216.1,143.4M211,161 207.4,161.1 204.6,158.7 201.4,157.4 198,157M211,161 213,157.7 214.9,154.2M197.7,156.6 198.9,153.4 199.6,150.2 199.4,146.9M214.9,154.2 215.4,150.6 215.6,147 216.1,143.4M240.1,131.8 239.1,132.1 236,133.6 232.8,135 230,137.2 226.4,137.7 223.8,140.4 220.4,141.4 217,142.1M246.2,141 244.5,141.4 241.9,144.6 238,145.2 235.1,148 231.2,148.6M231.2,148.6 228.1,146.1 224.5,144.6 220.3,144.5 216.8,142.7M217,142.1 216.8,142.7M263.6,161.8 263.1,161.4 259.5,160.7 256.8,158.5 253.3,157.7 250.8,155 247.5,153.8M247.5,153.8 248,150.5M231.3,160.1 231,156.3 231.8,152.5 231.2,148.6M231.3,160.1 227.8,159.6 224.4,158.8 221.3,157.1 218.3,155.1 214.9,154.2M216.1,143.4 216.8,142.7M217,142.1 217,138.5 217.9,134.8 215.9,131.3 216,129.8M205.9,142.4 202.7,140.4 200.6,137.5 199.1,134.1M199.1,134.1 200.4,130.6 201.7,127.1 201.7,126.4M232.3,170.9 230.7,166.2M232.3,170.9 235.8,172.5 237.7,173.7M247.3,169.3 247,168.3 246.5,164.5 246,160.8 246,157M246,157 242.7,159 238.7,158.4 235.4,160.5 231.7,160.7M231.7,160.7 232.3,163.7 230.7,166.2M247.5,153.8 246,157M231.3,160.1 231.7,160.7M230.7,166.2 226.9,166.1 223,167.2 219.2,164.8 215.3,165.8M211,161 211.2,162.6M211.2,162.6 215.3,165.8M232.3,170.9 229.2,172.9 226.3,175.2 224.1,178.3 221.3,180.7M215.3,165.8 216,169.9 217.7,173.5 218.8,177.4 221.3,180.7M226.9,188.3 226.4,187.1 222.7,185.8 220.6,182.7M220.6,182.7 221.3,180.7M191.4,143.1 188.3,144.4 185.5,146.4M191.4,143.1 191.4,139.1 193.3,135.7M185,146.2 183.2,143.3 180.5,140.8 179.7,137.3M185,146.2 185.5,146.4M188.6,132.1 191.2,133.6 193.3,135.7M188.6,132.1 185.4,132 182.4,133.2M182.4,133.2 179.8,136.1M179.8,136.1 179.7,137.3M190.2,154.9 187.9,152.5 186.1,149.7 185.5,146.4M199.4,146.9 195.2,145.3 191.4,143.1M199.1,134.1 195.9,133.8 193.3,135.7M173.2,140.9 173.8,140.7 176.3,138.2 179.7,137.3M177.4,151.3 180,149.7 182,147.3 185,146.2M191,125.2 191,125.3 188.6,128.4 188.6,132.1M181.5,125.4 181.9,125.9 182.1,129.5 182.4,133.2M173.3,132.7 173.4,132.8 176.9,134 179.8,136.1M205.3,171.6 207.1,175.1 208.6,178.7 212,181.4 212.8,185.4M205.3,171.6 202.2,171.5 199.4,173M199.4,173 199.1,173.4M199.1,173.4 200,176.9 197.9,180.3 198,180.9M209.2,189.9 210.3,187.9 212.8,185.4M211.2,162.6 208.7,165.2 208,169 205.3,171.6M220.6,182.7 216.8,184.4 212.8,185.4M194.5,165.2 195.5,168.2 198.5,169.9 199.4,173M187.8,175.7 189.4,174.8 193,175.7 195.6,173.1 199.1,173.4M281.7,101.7 260,115 243.3,126.7 240,133.3 246.7,140 248.3,150 261.7,155 266.7,168.3 270,175M280.7,103.4 283.3,115.1 288.5,126.9 298.9,133.4 304.1,141.2 302.8,154.2 306.8,162 313.3,169.9M116,404 118,413.3 113.3,423.3 110,431.7 102.3,442" fill="none" stroke="#fff" stroke-opacity="0.78" stroke-width="1.25" stroke-linejoin="round" stroke-linecap="round"/>
</g>
<g fill="none" stroke="#fde0ca" stroke-width="1.1" stroke-linejoin="round" stroke-linecap="round"><path d="M272.0,564.1 L277.3,566.8 L281.8,568.3 L286.3,567.2 L292.9,566.1"/><path d="M270.2,581.1 L274.7,580.2 L280.0,582.6 L285.4,583.3 L290.8,579.0 L297.0,578.6 L298.8,578.4"/><path d="M298.8,578.4 L298.8,584.7 L299.7,590.1 L300.6,595.1"/><path d="M290.8,579.0 L289.0,582.9 L288.3,588.3 L290.4,593.3"/><path d="M292.0,584.3 L293.6,585.8 L292.9,587.9 L291.1,587.9 L290.2,586.1 L292.0,584.3"/><path d="M295.2,556.1 L299.7,552.5 L306.9,550.7 L312.2,553.4 L318.5,557.0 L324.7,555.2 L330.1,557.0 L334.6,554.3"/><path d="M318.5,557.0 L317.6,563.2 L314.0,566.8 L308.6,568.6 L305.1,568.6"/><path d="M317.6,563.2 L323.8,561.5 L330.1,559.7 L334.6,562.3 L339.0,559.7"/><path d="M334.6,562.3 L337.2,568.6 L332.8,574.0 L330.1,580.2 L331.0,585.6 L326.5,591.9"/><path d="M365.9,584.7 L368.5,591.9 L371.2,599.0 L373.0,607.0 L370.3,611.2"/><path d="M351.6,593.6 L352.4,599.9 L355.1,601.7 L354.2,605.3 L358.7,607.0 L362.3,610.1"/><path d="M331.0,599.0 L333.7,603.5 L340.8,605.3 L345.3,608.8 L348.0,614.2 L349.8,620.5 L349.2,626.2"/><path d="M314.0,613.3 L317.6,614.2 L319.4,618.7 L322.9,624.0 L326.5,621.4 L325.6,617.8 L330.1,617.8 L335.5,620.5 L339.0,623.1"/><path d="M303.3,616.0 L300.6,622.2 L299.3,629.4 L298.8,637.4 L300.6,640.1"/><path d="M283.6,645.8 L287.2,643.7 L292.5,646.4 L297.9,642.8 L300.6,640.1 L306.9,642.8 L314.0,643.7 L322.9,644.6 L330.1,645.5"/><path d="M306.0,642.8 L307.7,649.1 L311.3,656.2 L314.0,663.4 L315.8,670.5 L314.9,675.0"/><path d="M284.5,674.1 L292.5,671.4 L299.7,673.2 L306.9,674.1 L314.9,675.0 L319.4,672.3 L326.5,673.2 L332.2,675.9"/><path d="M415.6,567.8 L411.1,565.6 L408.9,571.1 L404.4,573.3"/><path d="M411.1,565.6 L412.2,558.9 L415.6,555.6 L414.4,550.0 L417.8,545.6"/></g>
<g fill="none" stroke="#848484" stroke-width="1.4" stroke-linejoin="round" stroke-linecap="round">
<path d="M220.7,196.0 L226.0,191.7 L230.7,181.7 L238.3,174.0 L246.7,170.0 L251.7,169.3 L256.7,175.0 L265.0,178.3 L270.0,175.0 L276.7,180.7 L281.7,186.7 L288.3,183.3 L290.7,184.0"/><path d="M225.0,194.0 L230.7,206.7 L235.0,216.7 L238.3,223.3 L243.3,222.7 L246.7,230.0 L251.7,235.0 L254.0,240.7 L260.0,244.0 L265.7,246.7 L271.7,248.0 L274.0,246.7"/><path d="M274.0,246.7 L275.0,237.3 L279.0,230.0 L286.7,225.3 L296.7,225.0 L301.7,226.7 L304.0,225.0"/><path d="M183.3,258.9 L192.2,259.6 L200.0,260.4 L206.7,260.4 L213.3,263.3 L215.6,267.8 L220.0,266.0 L223.3,265.6 L231.1,264.0 L236.7,261.1 L238.9,256.7 L244.4,253.3 L248.9,254.4 L247.8,251.1 L253.3,246.7 L255.6,243.3"/><path d="M200.0,260.9 L197.8,265.6 L200.0,268.9 L198.4,274.4 L203.3,277.1 L207.8,277.1 L213.3,277.8 L217.8,279.3 L220.0,283.3 L222.2,288.9 L223.3,295.6 L225.6,300.0 L231.1,304.4 L234.4,307.8 L235.6,311.1 L232.2,312.2 L232.2,315.6 L235.6,317.3 L236.7,313.3 L238.9,310.0 L242.2,308.9 L245.6,311.1 L248.9,308.9 L252.2,307.8 L255.6,311.1 L256.2,316.7 L255.6,321.1 L258.9,319.6 L263.8,317.8"/><path d="M255.6,243.3 L258.9,241.1 L261.1,244.4 L265.6,246.7 L271.1,246.7 L273.3,246.0"/><path d="M273.3,246.2 L267.8,251.1 L263.3,256.7 L260.7,264.4 L260.0,273.3 L261.1,282.2 L262.2,290.0"/><path d="M254.4,295.6 L257.8,291.1 L262.2,290.0 L265.6,294.4 L264.4,298.9 L260.0,301.1 L255.6,298.9 L254.4,295.6"/><path d="M264.4,299.6 L267.8,304.4 L268.9,308.9 L266.7,313.3 L264.4,317.8 L266.0,323.3 L268.9,333.3"/><path d="M273.3,246.2 L278.9,251.1 L276.7,255.6 L274.4,261.1 L278.9,265.6 L281.1,270.0 L287.8,264.4 L294.4,268.9 L300.0,274.4 L303.3,275.6 L300.0,277.8 L303.3,281.1 L312.2,285.6 L317.8,288.9 L325.6,289.3 L330.0,291.6"/><path d="M268.9,333.3 L274.4,336.7 L267.8,340.0 L266.7,345.6 L274.4,343.3 L285.6,342.2"/><path d="M285.6,342.2 L291.1,344.0 L285.6,342.2 L284.4,345.6 L278.9,348.9 L270.0,353.3 L261.1,358.9 L252.2,365.6 L246.7,372.2 L246.0,378.9 L250.0,383.3 L258.9,384.4 L265.6,382.2 L266.7,387.8 L261.1,390.0 L255.6,392.2 L254.0,396.7 L256.2,404.4 L252.2,407.8 L254.4,413.3 L245.6,412.2 L237.8,411.1 L234.4,417.8 L230.0,421.1 L223.3,423.3 L221.7,418.3 L228.3,413.3 L230.0,403.3 L225.3,398.3 L216.7,396.7 L215.3,391.7 L211.7,396.7 L205.0,396.7 L203.3,406.7 L208.3,413.3 L210.0,423.3 L208.3,435.0 L203.3,440.0 L196.7,442.3"/><path d="M273.3,334.4 L271.1,340.0 L267.8,342.2 L267.8,345.6 L276.7,342.2 L285.6,342.2"/><path d="M265.6,320.0 L267.8,328.9 L273.3,334.4"/><path d="M285.6,342.2 L294.4,344.4 L303.3,347.8 L307.8,354.4 L306.7,362.2 L302.2,367.8 L301.1,373.3 L296.7,376.7 L290.0,378.9 L288.9,384.4 L286.7,391.1 L285.6,396.7 L286.7,403.3 L290.0,408.9 L295.6,408.9 L300.0,412.2 L303.3,408.9 L303.3,403.3 L300.0,398.9 L296.7,392.2 L295.6,385.6 L294.4,382.2 L298.9,380.0 L301.1,384.4 L306.7,387.8 L312.2,384.4 L316.7,387.8 L323.3,386.7 L327.8,383.3 L333.3,382.2 L336.7,384.4 L337.8,391.1 L343.3,391.1 L350.0,388.9 L351.1,392.2 L357.8,393.3 L358.9,388.9 L363.3,387.8 L367.8,390.0 L374.4,393.3 L381.1,397.8 L385.6,401.1 L393.3,401.1 L395.6,406.7 L394.4,415.6 L392.2,421.1 L385.6,422.2 L376.7,422.2 L368.9,422.2 L366.7,426.7 L368.9,431.1 L375.6,432.2 L380.0,435.6 L378.9,442.2 L374.4,446.7 L371.1,452.2 L365.6,455.6 L356.7,458.9 L353.3,463.3 L352.2,467.8 L347.8,471.1 L345.6,478.9 L343.3,485.6 L340.0,494.0"/><path d="M115.0,403.3 L123.3,401.7 L136.7,401.7 L146.7,403.3 L158.3,406.7 L163.3,406.0 L166.7,413.3 L171.7,420.0 L175.0,428.3 L183.3,435.0 L190.0,440.0 L196.7,442.3"/><path d="M196.7,442.3 L196.0,453.3 L190.0,458.3 L192.0,466.7 L195.0,470.7 L195.6,471.1"/><path d="M195.6,471.1 L198.9,476.7 L204.4,480.0 L216.7,482.0 L230.0,485.3 L236.7,492.0 L241.1,492.2 L250.0,488.9 L252.2,480.0 L263.3,476.7 L270.0,477.8 L271.1,484.4 L278.9,483.3 L287.8,481.1 L292.2,482.2 L303.3,480.0 L312.2,477.8 L318.9,481.1 L327.8,480.0 L336.7,483.3 L340.0,486.7 L343.3,485.6"/><path d="M420.6,328.9 L423.9,333.3 L428.3,337.8 L432.8,347.8 L427.2,350.0 L422.8,353.3 L428.3,358.9 L426.1,363.3 L432.8,367.8 L439.4,372.2 L433.9,374.4 L427.2,376.7 L420.6,380.0 L413.9,383.3 L409.4,387.8 L408.3,393.3 L410.6,401.1 L412.1,405.1"/><path d="M385.0,423.3 L395.0,418.9 L400.6,421.1 L407.2,417.8 L410.6,413.3 L412.1,405.1"/><path d="M412.1,405.1 L418.3,404.4 L423.9,403.3 L429.4,405.6 L435.0,408.9 L440.6,407.8 L447.2,406.7 L453.9,405.6 L460.6,402.2 L466.1,397.8 L470.6,398.9 L476.1,402.2 L481.7,405.6 L487.2,404.4 L493.9,403.3 L497.2,397.8 L500.6,391.1 L506.1,386.7 L512.8,384.4 L516.1,386.7"/><path d="M516.1,386.7 L513.9,382.2 L518.3,378.9 L516.1,373.3 L519.4,367.8 L516.1,363.3 L520.6,357.8 L523.9,355.6 L527.2,353.3 L524.5,349.5"/><path d="M516.1,386.7 L518.3,395.6 L516.1,403.3 L511.7,408.9 L508.3,413.3 L505.0,417.8 L498.3,421.1 L491.7,423.3 L485.0,426.7 L478.3,428.9 L472.8,431.1 L469.0,435.6 L469.4,441.1 L476.1,444.0 L482.8,446.2 L483.9,451.6 L489.4,456.0 L491.7,462.2 L497.2,468.9 L502.8,474.4 L506.8,478.2"/><path d="M410.6,413.3 L412.8,417.8 L418.3,423.3 L422.8,428.9 L425.0,435.6 L426.1,441.1 L431.7,445.6 L432.8,448.9 L427.2,453.3 L425.0,458.9"/><path d="M425.0,458.9 L431.7,460.0 L440.6,458.9 L449.4,457.8 L448.3,463.3 L450.6,467.8 L456.1,466.7 L462.8,469.3 L469.4,467.8 L473.9,462.2 L470.6,456.0 L473.9,453.3 L480.6,454.4 L485.0,457.8 L489.4,462.2 L491.7,462.9"/><path d="M425.0,458.9 L418.3,461.1 L413.9,466.7 L413.3,470.0"/><path d="M521.0,336.0 L527.2,336.9 L533.9,335.6 L538.8,334.7"/><path d="M563.3,347.3 L561.0,352.7 L563.3,357.3"/><path d="M563.3,368.3 L571.7,366.7 L580.0,368.3 L588.3,370.7 L596.7,370.0 L605.0,365.0 L613.3,365.0 L618.3,366.7 L621.7,375.0 L628.3,378.3 L632.7,383.3"/><path d="M616.0,341.7 L630.0,340.0 L646.7,340.7 L656.7,338.3 L663.3,331.7 L670.0,325.0 L681.7,321.0 L693.3,317.7 L708.3,313.3 L710.0,321.7 L709.3,330.0 L701.7,333.3 L693.3,337.3 L690.7,345.0 L691.0,350.0"/><path d="M691.0,350.0 L686.7,350.0 L681.7,346.7 L673.3,353.3 L666.7,360.0 L661.7,368.3 L655.0,371.7 L648.3,378.3 L646.7,381.7 L651.7,385.0"/><path d="M651.7,385.0 L658.3,378.3 L666.7,376.7 L675.0,375.0 L679.3,381.7"/><path d="M651.7,385.0 L648.3,393.3 L643.3,400.0 L640.0,408.3 L639.3,415.0 L648.3,418.3"/><path d="M639.3,415.0 L633.3,410.0 L628.3,415.0 L621.7,413.3 L620.7,405.0"/><path d="M621.7,413.3 L621.7,423.3"/><path d="M195.6,471.1 L193.3,474.4 L187.8,473.3 L182.2,476.7 L184.4,482.2 L191.6,481.1 L187.8,485.6 L181.1,487.8 L177.8,492.2 L180.0,497.8 L176.7,503.3 L172.2,506.7 L173.3,511.1 L168.9,513.3 L165.6,517.8 L160.0,515.6 L155.6,517.8"/><path d="M176.7,624.4 L184.4,628.9 L188.9,626.7 L194.4,623.3 L196.7,616.7 L193.3,611.1 L194.4,606.7 L200.0,603.3 L208.9,598.9 L216.7,596.7 L224.4,593.3 L225.6,585.6 L233.3,585.6 L241.1,584.4 L244.4,578.9 L251.1,573.3 L255.6,567.8 L262.2,562.2 L267.8,560.0 L271.1,561.1 L273.3,557.8"/><path d="M194.4,623.3 L195.6,630.0 L193.3,636.7 L190.0,641.1 L187.1,645.6"/><path d="M273.3,557.8 L276.7,550.0 L277.8,543.3 L282.2,538.9 L285.6,534.4 L288.9,528.9 L289.3,523.3 L295.6,525.6 L303.3,528.9 L304.4,530.0 L311.1,532.2 L320.0,530.4 L325.6,533.3 L327.8,541.1 L330.0,547.8 L335.1,552.7"/><path d="M273.3,557.8 L271.1,563.3 L272.2,570.0 L270.0,576.7 L268.9,583.3 L267.8,591.1 L268.9,598.9 L267.8,605.6 L266.2,610.4 L268.9,617.8 L264.4,623.3 L258.9,625.6 L257.8,632.2 L258.9,638.9 L253.3,643.3 L252.2,651.1 L255.6,656.7 L256.7,663.3 L260.0,662.2 L265.6,663.3 L264.4,668.9 L257.8,671.1 L256.7,674.4 L262.2,675.6 L268.9,674.4 L273.3,672.2 L280.0,673.3 L284.4,677.8 L286.7,683.3 L291.1,687.8 L293.3,693.3 L290.0,698.9"/><path d="M342.2,486.7 L340.0,494.4 L343.3,501.1 L341.1,508.9 L338.9,515.6 L341.1,523.3 L345.6,528.9 L347.8,534.4 L343.3,536.7 L337.8,541.1 L335.6,547.8 L335.1,552.7"/><path d="M335.1,552.7 L342.2,555.6 L346.7,561.1 L350.0,566.7 L354.4,573.3 L360.0,574.4 L364.9,573.3"/><path d="M364.9,573.3 L364.4,567.8 L366.7,562.2 L371.1,557.8 L378.9,553.3 L381.1,546.7 L380.0,538.9 L376.7,530.0 L373.3,520.0 L377.8,519.3 L385.6,522.7 L391.1,523.8 L392.2,521.6 L386.7,516.7 L385.6,507.8 L385.6,498.9 L391.1,492.2 L400.0,491.1 L406.7,486.7 L411.1,478.9 L413.3,470.0"/><path d="M380.4,541.6 L388.9,543.3 L395.6,541.1 L398.9,547.8 L401.6,555.1 L405.6,551.1 L408.9,546.7 L415.6,543.3 L421.1,546.7 L427.8,550.0 L433.3,547.8 L438.9,543.3 L442.2,541.1 L446.0,542.4"/><path d="M364.9,573.3 L366.7,577.8 L363.3,581.1 L355.6,586.7 L347.8,590.0 L342.2,593.3 L336.7,598.9 L330.0,601.1 L322.2,602.2 L315.6,605.6 L310.0,608.9 L304.4,614.4 L300.0,616.7 L295.6,618.9 L286.7,621.1 L277.8,618.9 L271.1,614.9 L266.2,610.4"/><path d="M290.0,698.9 L295.6,694.4 L304.4,691.1 L313.3,688.9 L322.2,686.7 L328.9,684.4 L335.6,682.2"/><path d="M290.0,698.9 L277.8,696.7 L273.3,703.3 L270.0,712.2 L274.4,715.6 L273.3,718.9 L267.8,721.1 L262.2,722.2 L255.6,722.2 L248.9,725.6 L245.1,726.9 L238.9,723.8 L232.2,720.2 L225.6,718.0 L220.0,714.4 L215.6,715.8 L218.9,708.2 L213.3,702.4 L208.9,700.0"/><path d="M245.1,726.9 L240.0,730.0 L246.7,734.4 L251.1,736.7 L250.0,743.3 L253.3,750.0 L252.2,757.8 L258.9,758.9 L262.2,763.3 L261.1,772.2 L264.4,777.8 L263.3,785.6 L261.1,794.4 L262.2,804.0 L262.7,807.8"/>
</g>
<g fill="#858585" stroke="#808080" stroke-width="0.8" stroke-linejoin="round"><path d="M521.7,475.6 L527.2,473.3 L529.4,466.7 L536.1,462.2 L540.6,453.3 L543.2,462.2 L544.6,475.6 L543.9,480.4 L536.1,481.1 L528.3,480.0 L523.9,478.2Z"/><path d="M47.3,424.0 L50.0,419.3 L55.0,418.3 L59.3,420.7 L58.3,425.0 L53.3,428.3 L48.3,428.3Z"/><path d="M297.8,379.6 L302.9,377.8 L305.6,384.0 L310.0,386.2 L314.4,384.9 L315.6,387.8 L306.7,389.3 L301.1,386.7Z"/></g>
<g stroke="#8e8e8e" stroke-width="1.1" stroke-linejoin="round"><path d="M636.0,680.7 L638.6,677.4 L640.4,683.3 L638.6,693.6 L634.7,694.9 L633.4,688.5Z" fill="#dcdcdc"/><path d="M630.8,696.2 L637.3,696.2 L637.8,709.1 L633.4,711.7 L630.8,707.9Z" fill="#dcdcdc"/><path d="M628.2,714.3 L633.4,712.5 L632.6,723.4 L630.8,732.4 L628.2,733.7 L626.9,723.4Z" fill="#e3d2cc"/><path d="M637.3,713.0 L641.1,710.4 L640.4,719.5 L638.6,722.1Z" fill="#c0c0c0"/><path d="M623.6,747.1 L626.9,745.3 L629.0,747.9 L628.5,752.3 L624.9,753.1 L623.1,750.5Z" fill="#e3d2cc"/></g>
<g fill="#909090"><circle cx="652.8" cy="647.6" r="0.8"/><circle cx="658.5" cy="711" r="1.3"/><circle cx="620.5" cy="728.5" r="1.3"/><circle cx="632.9" cy="785.6" r="1.8"/><circle cx="642.4" cy="807.3" r="2.0"/><circle cx="653.5" cy="802.2" r="0.9"/><circle cx="650.2" cy="811.7" r="2.2"/><circle cx="153.8" cy="751.7" r="0.9"/><circle cx="177.1" cy="747.1" r="0.9"/><circle cx="163.3" cy="807.3" r="0.9"/></g>
</svg>
</body></html>
